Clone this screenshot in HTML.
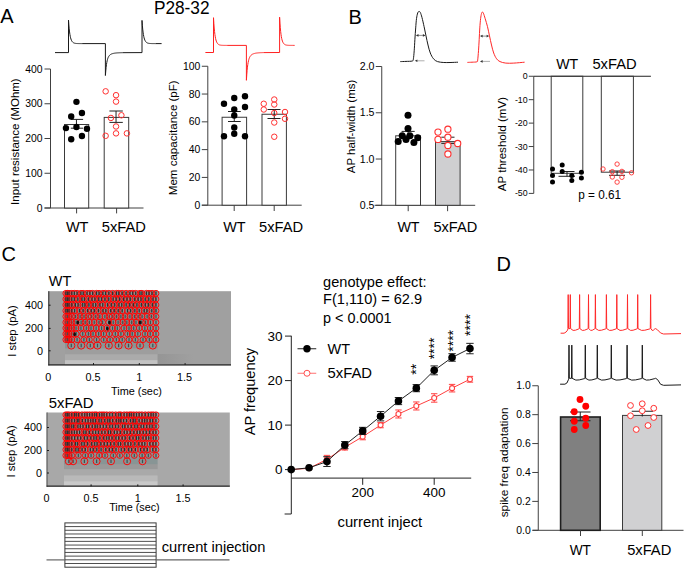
<!DOCTYPE html>
<html><head><meta charset="utf-8"><style>
html,body{margin:0;padding:0;background:#fff;width:685px;height:568px;overflow:hidden;}
svg{display:block;}
text{font-family:"Liberation Sans",sans-serif;}
</style></head><body>
<svg width="685" height="568" viewBox="0 0 685 568">
<rect width="685" height="568" fill="#fff"/>
<text x="0.2" y="22.9" font-size="20">A</text>
<text x="348.4" y="23.6" font-size="20">B</text>
<text x="1.6" y="261.3" font-size="20">C</text>
<text x="496.4" y="270.7" font-size="20">D</text>
<text x="153.9" y="14.2" font-size="18.9" textLength="55.6" lengthAdjust="spacingAndGlyphs">P28-32</text>
<polyline points="55,52.6 68.5,52.6 68.5,20.1 68.85,24.99 69.2,28.86 69.55,31.93 69.9,34.36 70.25,36.28 70.6,37.8 70.95,39.01 71.3,39.97 71.65,40.72 72,41.32 72.35,41.8 72.7,42.17 73.05,42.47 73.4,42.7 73.75,42.89 74.1,43.04 74.45,43.15 74.8,43.25 75.15,43.32 75.5,43.38 75.85,43.43 76.2,43.46 76.55,43.49 76.9,43.51 77.25,43.53 77.6,43.55 77.95,43.56 78.3,43.57 78.65,43.57 79,43.58 79.35,43.58 79.7,43.59 80.05,43.59 80.4,43.59 80.75,43.59 81.1,43.59 81.45,43.6 81.8,43.6 82.15,43.6 105.4,43.6 105.4,75.5 105.75,70.97 106.1,67.43 106.45,64.66 106.8,62.48 107.15,60.77 107.5,59.4 107.85,58.31 108.2,57.44 108.55,56.73 108.9,56.15 109.25,55.68 109.6,55.28 109.95,54.95 110.3,54.68 110.65,54.44 111,54.24 111.35,54.07 111.7,53.92 112.05,53.79 112.4,53.67 112.75,53.57 113.1,53.48 113.45,53.4 113.8,53.33 114.15,53.26 114.5,53.2 114.85,53.15 115.2,53.1 115.55,53.06 115.9,53.02 116.25,52.98 116.6,52.95 116.95,52.92 117.3,52.89 117.65,52.87 118,52.85 118.35,52.83 118.7,52.81 119.05,52.79 119.4,52.77 119.75,52.76 120.1,52.75 120.45,52.73 120.8,52.72 121.15,52.71 121.5,52.7 121.85,52.69 122.2,52.69 122.55,52.68 142,52.6 142,20.4 142.35,25.23 142.7,29.05 143.05,32.08 143.4,34.48 143.75,36.38 144.1,37.88 144.45,39.07 144.8,40.01 145.15,40.76 145.5,41.35 145.85,41.82 146.2,42.19 146.55,42.48 146.9,42.72 147.25,42.9 147.6,43.05 147.95,43.16 148.3,43.25 148.65,43.32 149,43.38 149.35,43.43 149.7,43.46 150.05,43.49 150.4,43.51 150.75,43.53 151.1,43.55 151.45,43.56 151.8,43.57 152.15,43.57 152.5,43.58 152.85,43.58 153.2,43.59 153.55,43.59 153.9,43.59 154.25,43.59 154.6,43.59 154.95,43.6 155.3,43.6 155.65,43.6 161.6,43.6" fill="none" stroke="#1a1a1a" stroke-width="1" stroke-linejoin="round"/>
<polyline points="205.4,52.5 213.5,52.5 213.5,17.7 213.85,23.46 214.2,28.03 214.55,31.64 214.9,34.51 215.25,36.77 215.6,38.57 215.95,39.99 216.3,41.12 216.65,42.01 217,42.71 217.35,43.27 217.7,43.72 218.05,44.07 218.4,44.34 218.75,44.56 219.1,44.74 219.45,44.88 219.8,44.98 220.15,45.07 220.5,45.14 220.85,45.19 221.2,45.24 221.55,45.27 221.9,45.3 222.25,45.32 222.6,45.34 222.95,45.35 223.3,45.36 223.65,45.37 224,45.37 224.35,45.38 224.7,45.38 225.05,45.39 225.4,45.39 225.75,45.39 226.1,45.39 226.45,45.4 226.8,45.4 227.15,45.4 246.4,45.4 246.4,80.3 246.75,74.8 247.1,70.5 247.45,67.14 247.8,64.5 248.15,62.41 248.5,60.76 248.85,59.43 249.2,58.37 249.55,57.51 249.9,56.81 250.25,56.23 250.6,55.76 250.95,55.36 251.3,55.02 251.65,54.74 252,54.49 252.35,54.28 252.7,54.1 253.05,53.94 253.4,53.8 253.75,53.68 254.1,53.57 254.45,53.47 254.8,53.38 255.15,53.3 255.5,53.23 255.85,53.17 256.2,53.11 256.55,53.06 256.9,53.01 257.25,52.97 257.6,52.93 257.95,52.89 258.3,52.86 258.65,52.83 259,52.8 259.35,52.77 259.7,52.75 260.05,52.73 260.4,52.71 260.75,52.69 261.1,52.68 261.45,52.66 261.8,52.65 262.15,52.64 262.5,52.62 262.85,52.61 263.2,52.6 263.55,52.6 279.6,52.5 279.6,17.2 279.95,23.07 280.3,27.72 280.65,31.4 281,34.31 281.35,36.62 281.7,38.45 282.05,39.89 282.4,41.04 282.75,41.95 283.1,42.67 283.45,43.23 283.8,43.69 284.15,44.04 284.5,44.32 284.85,44.55 285.2,44.73 285.55,44.87 285.9,44.98 286.25,45.07 286.6,45.13 286.95,45.19 287.3,45.23 287.65,45.27 288,45.3 288.35,45.32 288.7,45.33 289.05,45.35 289.4,45.36 289.75,45.37 290.1,45.37 290.45,45.38 290.8,45.38 291.15,45.39 291.5,45.39 291.85,45.39 292.2,45.39 292.55,45.39 292.9,45.4 293.25,45.4 294.6,45.4" fill="none" stroke="#ff2020" stroke-width="1" stroke-linejoin="round"/>
<line x1="50.5" y1="69" x2="50.5" y2="208" stroke="#404040" stroke-width="1"/>
<line x1="44.5" y1="69" x2="50.5" y2="69" stroke="#404040" stroke-width="1"/>
<text x="42.5" y="72.58" font-size="10.4" text-anchor="end">400</text>
<line x1="44.5" y1="103.75" x2="50.5" y2="103.75" stroke="#404040" stroke-width="1"/>
<text x="42.5" y="107.33" font-size="10.4" text-anchor="end">300</text>
<line x1="44.5" y1="138.5" x2="50.5" y2="138.5" stroke="#404040" stroke-width="1"/>
<text x="42.5" y="142.08" font-size="10.4" text-anchor="end">200</text>
<line x1="44.5" y1="173.25" x2="50.5" y2="173.25" stroke="#404040" stroke-width="1"/>
<text x="42.5" y="176.83" font-size="10.4" text-anchor="end">100</text>
<line x1="44.5" y1="208" x2="50.5" y2="208" stroke="#404040" stroke-width="1"/>
<text x="42.5" y="211.58" font-size="10.4" text-anchor="end">0</text>
<line x1="44.5" y1="208" x2="143.5" y2="208" stroke="#404040" stroke-width="1"/>
<rect x="64.5" y="124.5" width="24.2" height="83.5" fill="#fff" stroke="#3a3a3a" stroke-width="1"/>
<rect x="104.2" y="117.4" width="24.5" height="90.6" fill="#fff" stroke="#3a3a3a" stroke-width="1"/>
<line x1="76.6" y1="208" x2="76.6" y2="213.4" stroke="#404040" stroke-width="1"/>
<line x1="116.6" y1="208" x2="116.6" y2="213.4" stroke="#404040" stroke-width="1"/>
<text x="65.9" y="232.3" font-size="15" textLength="22.6" lengthAdjust="spacingAndGlyphs">WT</text>
<text x="101.8" y="232.3" font-size="15" textLength="44.2" lengthAdjust="spacingAndGlyphs">5xFAD</text>
<text x="19.2" y="141.6" font-size="11.5" text-anchor="middle" textLength="126.6" lengthAdjust="spacingAndGlyphs" transform="rotate(-90 19.2 141.6)">Input resistance (MOhm)</text>
<line x1="76.45" y1="119.4" x2="76.45" y2="128.2" stroke="#222" stroke-width="1"/>
<line x1="70.8" y1="119.4" x2="83.1" y2="119.4" stroke="#222" stroke-width="1"/>
<line x1="70.8" y1="128.2" x2="83.1" y2="128.2" stroke="#222" stroke-width="1"/>
<circle cx="76.45" cy="101.84" r="3.2" fill="#000" stroke="none" stroke-width="1"/>
<circle cx="81.94" cy="112.93" r="3.2" fill="#000" stroke="none" stroke-width="1"/>
<circle cx="71.2" cy="116.44" r="3.2" fill="#000" stroke="none" stroke-width="1"/>
<circle cx="65.94" cy="128.12" r="3.2" fill="#000" stroke="none" stroke-width="1"/>
<circle cx="76.45" cy="126.95" r="3.2" fill="#000" stroke="none" stroke-width="1"/>
<circle cx="86.96" cy="128.82" r="3.2" fill="#000" stroke="none" stroke-width="1"/>
<circle cx="71.2" cy="139.2" r="3.2" fill="#000" stroke="none" stroke-width="1"/>
<circle cx="81.94" cy="136.06" r="3.2" fill="#000" stroke="none" stroke-width="1"/>
<line x1="116.04" y1="111" x2="116.04" y2="122.4" stroke="#222" stroke-width="1"/>
<line x1="109.4" y1="111" x2="122.8" y2="111" stroke="#222" stroke-width="1"/>
<line x1="109.4" y1="122.4" x2="122.8" y2="122.4" stroke="#222" stroke-width="1"/>
<circle cx="105.65" cy="91.33" r="2.75" fill="none" stroke="#ff3030" stroke-width="1"/>
<circle cx="116.04" cy="95.18" r="2.75" fill="none" stroke="#ff3030" stroke-width="1"/>
<circle cx="116.04" cy="101.6" r="2.75" fill="none" stroke="#ff3030" stroke-width="1"/>
<circle cx="121.42" cy="115.27" r="2.75" fill="none" stroke="#ff3030" stroke-width="1"/>
<circle cx="110.9" cy="117.96" r="2.75" fill="none" stroke="#ff3030" stroke-width="1"/>
<circle cx="116.04" cy="126.48" r="2.75" fill="none" stroke="#ff3030" stroke-width="1"/>
<circle cx="116.04" cy="133.37" r="2.75" fill="none" stroke="#ff3030" stroke-width="1"/>
<circle cx="105.65" cy="135.82" r="2.75" fill="none" stroke="#ff3030" stroke-width="1"/>
<circle cx="126.9" cy="133.37" r="2.75" fill="none" stroke="#ff3030" stroke-width="1"/>
<line x1="207.8" y1="66.25" x2="207.8" y2="205.2" stroke="#404040" stroke-width="1"/>
<line x1="201.8" y1="66.25" x2="207.8" y2="66.25" stroke="#404040" stroke-width="1"/>
<text x="200.3" y="69.83" font-size="10.4" text-anchor="end">100</text>
<line x1="201.8" y1="94.04" x2="207.8" y2="94.04" stroke="#404040" stroke-width="1"/>
<text x="200.3" y="97.62" font-size="10.4" text-anchor="end">80</text>
<line x1="201.8" y1="121.83" x2="207.8" y2="121.83" stroke="#404040" stroke-width="1"/>
<text x="200.3" y="125.41" font-size="10.4" text-anchor="end">60</text>
<line x1="201.8" y1="149.62" x2="207.8" y2="149.62" stroke="#404040" stroke-width="1"/>
<text x="200.3" y="153.2" font-size="10.4" text-anchor="end">40</text>
<line x1="201.8" y1="177.41" x2="207.8" y2="177.41" stroke="#404040" stroke-width="1"/>
<text x="200.3" y="180.99" font-size="10.4" text-anchor="end">20</text>
<line x1="201.8" y1="205.2" x2="207.8" y2="205.2" stroke="#404040" stroke-width="1"/>
<text x="200.3" y="208.78" font-size="10.4" text-anchor="end">0</text>
<line x1="201.8" y1="205.2" x2="301.7" y2="205.2" stroke="#404040" stroke-width="1"/>
<rect x="222.1" y="117.25" width="24.5" height="87.95" fill="#fff" stroke="#3a3a3a" stroke-width="1"/>
<rect x="262" y="114.25" width="24.4" height="90.95" fill="#fff" stroke="#3a3a3a" stroke-width="1"/>
<line x1="234.2" y1="205.2" x2="234.2" y2="211" stroke="#404040" stroke-width="1"/>
<line x1="274.2" y1="205.2" x2="274.2" y2="211" stroke="#404040" stroke-width="1"/>
<text x="223.2" y="232.3" font-size="15" textLength="22.4" lengthAdjust="spacingAndGlyphs">WT</text>
<text x="259.1" y="232.3" font-size="15" textLength="44.1" lengthAdjust="spacingAndGlyphs">5xFAD</text>
<text x="176.9" y="137.75" font-size="11.5" text-anchor="middle" textLength="114.9" lengthAdjust="spacingAndGlyphs" transform="rotate(-90 176.9 137.75)">Mem capacitance (pF)</text>
<line x1="234.25" y1="111.5" x2="234.25" y2="121.5" stroke="#222" stroke-width="1"/>
<line x1="228" y1="111.5" x2="240.75" y2="111.5" stroke="#222" stroke-width="1"/>
<line x1="228" y1="121.5" x2="240.75" y2="121.5" stroke="#222" stroke-width="1"/>
<circle cx="234.25" cy="98" r="3.2" fill="#000" stroke="none" stroke-width="1"/>
<circle cx="245" cy="96.25" r="3.2" fill="#000" stroke="none" stroke-width="1"/>
<circle cx="224" cy="103.75" r="3.2" fill="#000" stroke="none" stroke-width="1"/>
<circle cx="245" cy="107" r="3.2" fill="#000" stroke="none" stroke-width="1"/>
<circle cx="234.25" cy="109.5" r="3.2" fill="#000" stroke="none" stroke-width="1"/>
<circle cx="234.25" cy="115.5" r="3.2" fill="#000" stroke="none" stroke-width="1"/>
<circle cx="234.25" cy="127.5" r="3.2" fill="#000" stroke="none" stroke-width="1"/>
<circle cx="224" cy="136.25" r="3.2" fill="#000" stroke="none" stroke-width="1"/>
<circle cx="234.25" cy="133.75" r="3.2" fill="#000" stroke="none" stroke-width="1"/>
<circle cx="245" cy="136.25" r="3.2" fill="#000" stroke="none" stroke-width="1"/>
<line x1="274.25" y1="109.5" x2="274.25" y2="118.5" stroke="#222" stroke-width="1"/>
<line x1="267.5" y1="109.5" x2="280.5" y2="109.5" stroke="#222" stroke-width="1"/>
<line x1="267.5" y1="118.5" x2="280.5" y2="118.5" stroke="#222" stroke-width="1"/>
<circle cx="263.75" cy="103.75" r="2.75" fill="none" stroke="#ff3030" stroke-width="1"/>
<circle cx="274.25" cy="99.5" r="2.75" fill="none" stroke="#ff3030" stroke-width="1"/>
<circle cx="274.25" cy="104.5" r="2.75" fill="none" stroke="#ff3030" stroke-width="1"/>
<circle cx="263.75" cy="109.5" r="2.75" fill="none" stroke="#ff3030" stroke-width="1"/>
<circle cx="274.25" cy="113" r="2.75" fill="none" stroke="#ff3030" stroke-width="1"/>
<circle cx="285" cy="112" r="2.75" fill="none" stroke="#ff3030" stroke-width="1"/>
<circle cx="285" cy="118.75" r="2.75" fill="none" stroke="#ff3030" stroke-width="1"/>
<circle cx="274.25" cy="122.5" r="2.75" fill="none" stroke="#ff3030" stroke-width="1"/>
<circle cx="274.25" cy="136.75" r="2.75" fill="none" stroke="#ff3030" stroke-width="1"/>
<path d="M400.3 61.6C401.25 61.57 404 61.5 406 61.4C408 61.3 411.07 61.43 412.3 61C413.53 60.57 413.08 60.5 413.4 58.8C413.72 57.1 413.95 54.05 414.2 50.8C414.45 47.55 414.65 43.12 414.9 39.3C415.15 35.48 415.43 31.33 415.7 27.9C415.97 24.47 416.17 21.18 416.5 18.7C416.83 16.22 417.3 14.2 417.7 13C418.1 11.8 418.47 11.6 418.9 11.5C419.33 11.4 419.78 11.38 420.3 12.4C420.82 13.42 421.37 15.22 422 17.6C422.63 19.98 423.43 23.65 424.1 26.7C424.77 29.75 425.35 32.85 426 35.9C426.65 38.95 427.28 42.15 428 45C428.72 47.85 429.38 50.7 430.3 53C431.22 55.3 432.3 57.37 433.5 58.8C434.7 60.23 435.78 60.98 437.5 61.6C439.22 62.22 441.72 62.35 443.8 62.5C445.88 62.65 447.63 62.55 450 62.5C452.37 62.45 456.67 62.25 458 62.2" fill="none" stroke="#1a1a1a" stroke-width="1" stroke-linejoin="round"/>
<path d="M467.4 62.4C468.17 62.37 470.42 62.3 472 62.2C473.58 62.1 475.95 62.18 476.9 61.8C477.85 61.42 477.43 61.73 477.7 59.9C477.97 58.07 478.25 54.23 478.5 50.8C478.75 47.37 478.98 43.12 479.2 39.3C479.42 35.48 479.57 31.33 479.8 27.9C480.03 24.47 480.32 21.08 480.6 18.7C480.88 16.32 481.22 14.7 481.5 13.6C481.78 12.5 481.98 12.17 482.3 12.1C482.62 12.03 482.92 12.1 483.4 13.2C483.88 14.3 484.52 16.45 485.2 18.7C485.88 20.95 486.78 23.83 487.5 26.7C488.22 29.57 488.83 32.85 489.5 35.9C490.17 38.95 490.8 42.15 491.5 45C492.2 47.85 492.85 50.7 493.7 53C494.55 55.3 495.55 57.37 496.6 58.8C497.65 60.23 498.47 60.88 500 61.6C501.53 62.32 503.5 62.85 505.8 63.1C508.1 63.35 510.67 63.25 513.8 63.1C516.93 62.95 522.8 62.35 524.6 62.2" fill="none" stroke="#ff2828" stroke-width="1" stroke-linejoin="round"/>
<line x1="417.4" y1="35.4" x2="424" y2="35.4" stroke="#444" stroke-width="0.6"/>
<path d="M415.9 35.4 L418.5 34.1 L418.5 36.7 Z" fill="#333"/>
<path d="M425.5 35.4 L422.9 34.1 L422.9 36.7 Z" fill="#333"/>
<line x1="481.5" y1="36.1" x2="487.7" y2="36.1" stroke="#444" stroke-width="0.6"/>
<path d="M480 36.1 L482.6 34.8 L482.6 37.4 Z" fill="#333"/>
<path d="M489.2 36.1 L486.6 34.8 L486.6 37.4 Z" fill="#333"/>
<line x1="416.3" y1="60.8" x2="424.5" y2="60.8" stroke="#777" stroke-width="0.6"/>
<path d="M414.8 60.8 L417.4 59.5 L417.4 62.1 Z" fill="#333"/>
<line x1="481.5" y1="61.4" x2="490" y2="61.4" stroke="#777" stroke-width="0.6"/>
<path d="M480 61.4 L482.6 60.1 L482.6 62.7 Z" fill="#333"/>
<line x1="381.75" y1="66.5" x2="381.75" y2="205.3" stroke="#404040" stroke-width="1"/>
<line x1="375.75" y1="66.5" x2="381.75" y2="66.5" stroke="#404040" stroke-width="1"/>
<text x="374.5" y="70.15" font-size="10.6" text-anchor="end">2.0</text>
<line x1="375.75" y1="112.77" x2="381.75" y2="112.77" stroke="#404040" stroke-width="1"/>
<text x="374.5" y="116.41" font-size="10.6" text-anchor="end">1.5</text>
<line x1="375.75" y1="159.03" x2="381.75" y2="159.03" stroke="#404040" stroke-width="1"/>
<text x="374.5" y="162.68" font-size="10.6" text-anchor="end">1.0</text>
<line x1="375.75" y1="205.3" x2="381.75" y2="205.3" stroke="#404040" stroke-width="1"/>
<text x="374.5" y="208.95" font-size="10.6" text-anchor="end">0.5</text>
<line x1="374.6" y1="205.3" x2="475.2" y2="205.3" stroke="#404040" stroke-width="1"/>
<rect x="395.7" y="135.8" width="24.8" height="69.5" fill="#fff" stroke="#3a3a3a" stroke-width="1"/>
<rect x="435.5" y="141.6" width="24.6" height="63.7" fill="#cfcfd1" stroke="#3a3a3a" stroke-width="1"/>
<line x1="408.2" y1="205.3" x2="408.2" y2="211.2" stroke="#404040" stroke-width="1"/>
<line x1="447.6" y1="205.3" x2="447.6" y2="211.2" stroke="#404040" stroke-width="1"/>
<text x="397.4" y="232.3" font-size="15" textLength="22.2" lengthAdjust="spacingAndGlyphs">WT</text>
<text x="433.4" y="232.3" font-size="15" textLength="43.8" lengthAdjust="spacingAndGlyphs">5xFAD</text>
<text x="354.7" y="126.45" font-size="11.5" text-anchor="middle" textLength="93.5" lengthAdjust="spacingAndGlyphs" transform="rotate(-90 354.7 126.45)">AP half-width (ms)</text>
<line x1="408.1" y1="131.4" x2="408.1" y2="140" stroke="#222" stroke-width="1"/>
<line x1="401.6" y1="131.4" x2="414.7" y2="131.4" stroke="#222" stroke-width="1"/>
<circle cx="408" cy="115.3" r="3.5" fill="#000" stroke="none" stroke-width="1"/>
<circle cx="408" cy="128.5" r="3.5" fill="#000" stroke="none" stroke-width="1"/>
<circle cx="402.2" cy="135.8" r="3.5" fill="#000" stroke="none" stroke-width="1"/>
<circle cx="409.9" cy="135.8" r="3.5" fill="#000" stroke="none" stroke-width="1"/>
<circle cx="417.7" cy="137.7" r="3.5" fill="#000" stroke="none" stroke-width="1"/>
<circle cx="398.2" cy="141.6" r="3.5" fill="#000" stroke="none" stroke-width="1"/>
<circle cx="406" cy="139.4" r="3.5" fill="#000" stroke="none" stroke-width="1"/>
<circle cx="413.9" cy="142.6" r="3.5" fill="#000" stroke="none" stroke-width="1"/>
<line x1="447.9" y1="137.2" x2="447.9" y2="143.4" stroke="#222" stroke-width="1"/>
<line x1="441.3" y1="137.2" x2="454.5" y2="137.2" stroke="#222" stroke-width="1"/>
<line x1="441.3" y1="143.4" x2="454.5" y2="143.4" stroke="#222" stroke-width="1"/>
<circle cx="438" cy="132.1" r="3.1" fill="#fff" stroke="#ff3030" stroke-width="1.1"/>
<circle cx="447.9" cy="129.2" r="3.1" fill="#fff" stroke="#ff3030" stroke-width="1.1"/>
<circle cx="438" cy="139.4" r="3.1" fill="#fff" stroke="#ff3030" stroke-width="1.1"/>
<circle cx="447.9" cy="137.2" r="3.1" fill="#fff" stroke="#ff3030" stroke-width="1.1"/>
<circle cx="457.7" cy="143.5" r="3.1" fill="#fff" stroke="#ff3030" stroke-width="1.1"/>
<circle cx="447.9" cy="145.5" r="3.1" fill="#fff" stroke="#ff3030" stroke-width="1.1"/>
<circle cx="447.9" cy="154" r="3.1" fill="#fff" stroke="#ff3030" stroke-width="1.1"/>
<line x1="533.75" y1="76.25" x2="533.75" y2="193.4" stroke="#404040" stroke-width="1"/>
<line x1="528.75" y1="76.25" x2="533.75" y2="76.25" stroke="#404040" stroke-width="1"/>
<text x="527.6" y="79.28" font-size="8.8" text-anchor="end">0</text>
<line x1="528.75" y1="99.68" x2="533.75" y2="99.68" stroke="#404040" stroke-width="1"/>
<text x="527.6" y="102.71" font-size="8.8" text-anchor="end">-10</text>
<line x1="528.75" y1="123.11" x2="533.75" y2="123.11" stroke="#404040" stroke-width="1"/>
<text x="527.6" y="126.14" font-size="8.8" text-anchor="end">-20</text>
<line x1="528.75" y1="146.54" x2="533.75" y2="146.54" stroke="#404040" stroke-width="1"/>
<text x="527.6" y="149.57" font-size="8.8" text-anchor="end">-30</text>
<line x1="528.75" y1="169.97" x2="533.75" y2="169.97" stroke="#404040" stroke-width="1"/>
<text x="527.6" y="173" font-size="8.8" text-anchor="end">-40</text>
<line x1="528.75" y1="193.4" x2="533.75" y2="193.4" stroke="#404040" stroke-width="1"/>
<text x="527.6" y="196.43" font-size="8.8" text-anchor="end">-50</text>
<line x1="533.75" y1="76.25" x2="650.9" y2="76.25" stroke="#222" stroke-width="1"/>
<rect x="551.2" y="76.25" width="31.6" height="97.05" fill="none" stroke="#3a3a3a" stroke-width="1"/>
<rect x="601.3" y="76.25" width="32.1" height="95.95" fill="none" stroke="#3a3a3a" stroke-width="1"/>
<text x="556.25" y="68.6" font-size="14.2" textLength="22" lengthAdjust="spacingAndGlyphs">WT</text>
<text x="592.4" y="68.6" font-size="14.2" textLength="44.2" lengthAdjust="spacingAndGlyphs">5xFAD</text>
<text x="506.4" y="144.1" font-size="11.5" text-anchor="middle" textLength="94.2" lengthAdjust="spacingAndGlyphs" transform="rotate(-90 506.4 144.1)">AP threshold (mV)</text>
<text x="578.2" y="199.2" font-size="12.3" textLength="42.9" lengthAdjust="spacingAndGlyphs">p = 0.61</text>
<line x1="567" y1="171.5" x2="567" y2="176.5" stroke="#222" stroke-width="1"/>
<line x1="560.5" y1="171.5" x2="574.5" y2="171.5" stroke="#222" stroke-width="1"/>
<line x1="558.5" y1="176.3" x2="575" y2="176.3" stroke="#222" stroke-width="1"/>
<circle cx="552.5" cy="169" r="2.5" fill="#000" stroke="none" stroke-width="1"/>
<circle cx="562.2" cy="164.9" r="2.5" fill="#000" stroke="none" stroke-width="1"/>
<circle cx="562.2" cy="171.4" r="2.5" fill="#000" stroke="none" stroke-width="1"/>
<circle cx="552.5" cy="175.4" r="2.5" fill="#000" stroke="none" stroke-width="1"/>
<circle cx="552.5" cy="182.1" r="2.5" fill="#000" stroke="none" stroke-width="1"/>
<circle cx="571.8" cy="175.4" r="2.5" fill="#000" stroke="none" stroke-width="1"/>
<circle cx="571.8" cy="180.5" r="2.5" fill="#000" stroke="none" stroke-width="1"/>
<circle cx="581.4" cy="172.2" r="2.5" fill="#000" stroke="none" stroke-width="1"/>
<circle cx="581.4" cy="178.1" r="2.5" fill="#000" stroke="none" stroke-width="1"/>
<line x1="617.1" y1="171" x2="617.1" y2="175.3" stroke="#222" stroke-width="1"/>
<line x1="609" y1="171" x2="625" y2="171" stroke="#222" stroke-width="1"/>
<line x1="609" y1="175.3" x2="625" y2="175.3" stroke="#222" stroke-width="1"/>
<circle cx="603" cy="169" r="2.2" fill="none" stroke="#ff3030" stroke-width="0.9"/>
<circle cx="617.1" cy="164.1" r="2.2" fill="none" stroke="#ff3030" stroke-width="0.9"/>
<circle cx="612.3" cy="171.7" r="2.2" fill="none" stroke="#ff3030" stroke-width="0.9"/>
<circle cx="621.9" cy="171.4" r="2.2" fill="none" stroke="#ff3030" stroke-width="0.9"/>
<circle cx="631.5" cy="172.8" r="2.2" fill="none" stroke="#ff3030" stroke-width="0.9"/>
<circle cx="612.3" cy="177" r="2.2" fill="none" stroke="#ff3030" stroke-width="0.9"/>
<circle cx="621.9" cy="177.3" r="2.2" fill="none" stroke="#ff3030" stroke-width="0.9"/>
<circle cx="617.1" cy="182.1" r="2.2" fill="none" stroke="#ff3030" stroke-width="0.9"/>
<rect x="48.3" y="291.2" width="182.7" height="74.2" fill="#a0a0a0" stroke="none" stroke-width="1"/>
<rect x="65" y="348.5" width="92.6" height="5.8" fill="#9e9e9e" stroke="none" stroke-width="1"/>
<rect x="65" y="354.3" width="92.6" height="5.8" fill="#ababab" stroke="none" stroke-width="1"/>
<rect x="65" y="360.1" width="92.6" height="5.3" fill="#c3c3c3" stroke="none" stroke-width="1"/>
<rect x="65" y="290.4" width="92.6" height="58" fill="#889595" stroke="none" stroke-width="1"/>
<line x1="65.8" y1="314.7" x2="65.8" y2="318.3" stroke="#3e5050" stroke-width="1.2"/>
<line x1="67.4" y1="314.7" x2="67.4" y2="318.3" stroke="#3e5050" stroke-width="1.2"/>
<line x1="69" y1="314.7" x2="69" y2="318.3" stroke="#3e5050" stroke-width="1.2"/>
<line x1="71.8" y1="314.7" x2="71.8" y2="318.3" stroke="#3e5050" stroke-width="1.2"/>
<line x1="75.61" y1="314.7" x2="75.61" y2="318.3" stroke="#3e5050" stroke-width="1.2"/>
<line x1="80.09" y1="314.7" x2="80.09" y2="318.3" stroke="#3e5050" stroke-width="1.2"/>
<line x1="84.02" y1="314.7" x2="84.02" y2="318.3" stroke="#3e5050" stroke-width="1.2"/>
<line x1="88.17" y1="314.7" x2="88.17" y2="318.3" stroke="#3e5050" stroke-width="1.2"/>
<line x1="91.36" y1="314.7" x2="91.36" y2="318.3" stroke="#3e5050" stroke-width="1.2"/>
<line x1="95.74" y1="314.7" x2="95.74" y2="318.3" stroke="#3e5050" stroke-width="1.2"/>
<line x1="99.83" y1="314.7" x2="99.83" y2="318.3" stroke="#3e5050" stroke-width="1.2"/>
<line x1="104.88" y1="314.7" x2="104.88" y2="318.3" stroke="#3e5050" stroke-width="1.2"/>
<line x1="109.23" y1="314.7" x2="109.23" y2="318.3" stroke="#3e5050" stroke-width="1.2"/>
<line x1="112.19" y1="314.7" x2="112.19" y2="318.3" stroke="#3e5050" stroke-width="1.2"/>
<line x1="116.5" y1="314.7" x2="116.5" y2="318.3" stroke="#3e5050" stroke-width="1.2"/>
<line x1="120.87" y1="314.7" x2="120.87" y2="318.3" stroke="#3e5050" stroke-width="1.2"/>
<line x1="125.17" y1="314.7" x2="125.17" y2="318.3" stroke="#3e5050" stroke-width="1.2"/>
<line x1="129.88" y1="314.7" x2="129.88" y2="318.3" stroke="#3e5050" stroke-width="1.2"/>
<line x1="134.37" y1="314.7" x2="134.37" y2="318.3" stroke="#3e5050" stroke-width="1.2"/>
<line x1="138.18" y1="314.7" x2="138.18" y2="318.3" stroke="#3e5050" stroke-width="1.2"/>
<line x1="142.11" y1="314.7" x2="142.11" y2="318.3" stroke="#3e5050" stroke-width="1.2"/>
<line x1="147.13" y1="314.7" x2="147.13" y2="318.3" stroke="#3e5050" stroke-width="1.2"/>
<line x1="151.42" y1="314.7" x2="151.42" y2="318.3" stroke="#3e5050" stroke-width="1.2"/>
<line x1="156" y1="314.7" x2="156" y2="318.3" stroke="#3e5050" stroke-width="1.2"/>
<line x1="65.8" y1="320.5" x2="65.8" y2="324.1" stroke="#3e5050" stroke-width="1.2"/>
<line x1="67.4" y1="320.5" x2="67.4" y2="324.1" stroke="#3e5050" stroke-width="1.2"/>
<line x1="69" y1="320.5" x2="69" y2="324.1" stroke="#3e5050" stroke-width="1.2"/>
<line x1="71.8" y1="320.5" x2="71.8" y2="324.1" stroke="#3e5050" stroke-width="1.2"/>
<line x1="76.07" y1="320.5" x2="76.07" y2="324.1" stroke="#3e5050" stroke-width="1.2"/>
<line x1="81.09" y1="320.5" x2="81.09" y2="324.1" stroke="#3e5050" stroke-width="1.2"/>
<line x1="85.17" y1="320.5" x2="85.17" y2="324.1" stroke="#3e5050" stroke-width="1.2"/>
<line x1="89.44" y1="320.5" x2="89.44" y2="324.1" stroke="#3e5050" stroke-width="1.2"/>
<line x1="94.21" y1="320.5" x2="94.21" y2="324.1" stroke="#3e5050" stroke-width="1.2"/>
<line x1="98.94" y1="320.5" x2="98.94" y2="324.1" stroke="#3e5050" stroke-width="1.2"/>
<line x1="102.62" y1="320.5" x2="102.62" y2="324.1" stroke="#3e5050" stroke-width="1.2"/>
<line x1="108.67" y1="320.5" x2="108.67" y2="324.1" stroke="#3e5050" stroke-width="1.2"/>
<line x1="113.2" y1="320.5" x2="113.2" y2="324.1" stroke="#3e5050" stroke-width="1.2"/>
<line x1="118.09" y1="320.5" x2="118.09" y2="324.1" stroke="#3e5050" stroke-width="1.2"/>
<line x1="122.73" y1="320.5" x2="122.73" y2="324.1" stroke="#3e5050" stroke-width="1.2"/>
<line x1="126.86" y1="320.5" x2="126.86" y2="324.1" stroke="#3e5050" stroke-width="1.2"/>
<line x1="131.66" y1="320.5" x2="131.66" y2="324.1" stroke="#3e5050" stroke-width="1.2"/>
<line x1="136" y1="320.5" x2="136" y2="324.1" stroke="#3e5050" stroke-width="1.2"/>
<line x1="141.67" y1="320.5" x2="141.67" y2="324.1" stroke="#3e5050" stroke-width="1.2"/>
<line x1="145.59" y1="320.5" x2="145.59" y2="324.1" stroke="#3e5050" stroke-width="1.2"/>
<line x1="150.45" y1="320.5" x2="150.45" y2="324.1" stroke="#3e5050" stroke-width="1.2"/>
<line x1="156" y1="320.5" x2="156" y2="324.1" stroke="#3e5050" stroke-width="1.2"/>
<line x1="65.8" y1="326.3" x2="65.8" y2="329.9" stroke="#3e5050" stroke-width="1.2"/>
<line x1="67.4" y1="326.3" x2="67.4" y2="329.9" stroke="#3e5050" stroke-width="1.2"/>
<line x1="69" y1="326.3" x2="69" y2="329.9" stroke="#3e5050" stroke-width="1.2"/>
<line x1="71.8" y1="326.3" x2="71.8" y2="329.9" stroke="#3e5050" stroke-width="1.2"/>
<line x1="76.04" y1="326.3" x2="76.04" y2="329.9" stroke="#3e5050" stroke-width="1.2"/>
<line x1="80.94" y1="326.3" x2="80.94" y2="329.9" stroke="#3e5050" stroke-width="1.2"/>
<line x1="86.31" y1="326.3" x2="86.31" y2="329.9" stroke="#3e5050" stroke-width="1.2"/>
<line x1="91" y1="326.3" x2="91" y2="329.9" stroke="#3e5050" stroke-width="1.2"/>
<line x1="96.12" y1="326.3" x2="96.12" y2="329.9" stroke="#3e5050" stroke-width="1.2"/>
<line x1="101.6" y1="326.3" x2="101.6" y2="329.9" stroke="#3e5050" stroke-width="1.2"/>
<line x1="106.8" y1="326.3" x2="106.8" y2="329.9" stroke="#3e5050" stroke-width="1.2"/>
<line x1="112.53" y1="326.3" x2="112.53" y2="329.9" stroke="#3e5050" stroke-width="1.2"/>
<line x1="117.33" y1="326.3" x2="117.33" y2="329.9" stroke="#3e5050" stroke-width="1.2"/>
<line x1="124.04" y1="326.3" x2="124.04" y2="329.9" stroke="#3e5050" stroke-width="1.2"/>
<line x1="129.01" y1="326.3" x2="129.01" y2="329.9" stroke="#3e5050" stroke-width="1.2"/>
<line x1="133.67" y1="326.3" x2="133.67" y2="329.9" stroke="#3e5050" stroke-width="1.2"/>
<line x1="139.25" y1="326.3" x2="139.25" y2="329.9" stroke="#3e5050" stroke-width="1.2"/>
<line x1="144.84" y1="326.3" x2="144.84" y2="329.9" stroke="#3e5050" stroke-width="1.2"/>
<line x1="150.32" y1="326.3" x2="150.32" y2="329.9" stroke="#3e5050" stroke-width="1.2"/>
<line x1="156" y1="326.3" x2="156" y2="329.9" stroke="#3e5050" stroke-width="1.2"/>
<line x1="65.8" y1="332.1" x2="65.8" y2="335.7" stroke="#3e5050" stroke-width="1.2"/>
<line x1="67.4" y1="332.1" x2="67.4" y2="335.7" stroke="#3e5050" stroke-width="1.2"/>
<line x1="69" y1="332.1" x2="69" y2="335.7" stroke="#3e5050" stroke-width="1.2"/>
<line x1="71.8" y1="332.1" x2="71.8" y2="335.7" stroke="#3e5050" stroke-width="1.2"/>
<line x1="76.23" y1="332.1" x2="76.23" y2="335.7" stroke="#3e5050" stroke-width="1.2"/>
<line x1="82.72" y1="332.1" x2="82.72" y2="335.7" stroke="#3e5050" stroke-width="1.2"/>
<line x1="88.38" y1="332.1" x2="88.38" y2="335.7" stroke="#3e5050" stroke-width="1.2"/>
<line x1="93.04" y1="332.1" x2="93.04" y2="335.7" stroke="#3e5050" stroke-width="1.2"/>
<line x1="98.63" y1="332.1" x2="98.63" y2="335.7" stroke="#3e5050" stroke-width="1.2"/>
<line x1="103.61" y1="332.1" x2="103.61" y2="335.7" stroke="#3e5050" stroke-width="1.2"/>
<line x1="109.28" y1="332.1" x2="109.28" y2="335.7" stroke="#3e5050" stroke-width="1.2"/>
<line x1="115.34" y1="332.1" x2="115.34" y2="335.7" stroke="#3e5050" stroke-width="1.2"/>
<line x1="120.92" y1="332.1" x2="120.92" y2="335.7" stroke="#3e5050" stroke-width="1.2"/>
<line x1="127.56" y1="332.1" x2="127.56" y2="335.7" stroke="#3e5050" stroke-width="1.2"/>
<line x1="132.24" y1="332.1" x2="132.24" y2="335.7" stroke="#3e5050" stroke-width="1.2"/>
<line x1="137.8" y1="332.1" x2="137.8" y2="335.7" stroke="#3e5050" stroke-width="1.2"/>
<line x1="145.08" y1="332.1" x2="145.08" y2="335.7" stroke="#3e5050" stroke-width="1.2"/>
<line x1="150.22" y1="332.1" x2="150.22" y2="335.7" stroke="#3e5050" stroke-width="1.2"/>
<line x1="156" y1="332.1" x2="156" y2="335.7" stroke="#3e5050" stroke-width="1.2"/>
<line x1="65.8" y1="337.9" x2="65.8" y2="341.5" stroke="#3e5050" stroke-width="1.2"/>
<line x1="67.4" y1="337.9" x2="67.4" y2="341.5" stroke="#3e5050" stroke-width="1.2"/>
<line x1="69" y1="337.9" x2="69" y2="341.5" stroke="#3e5050" stroke-width="1.2"/>
<line x1="71.8" y1="337.9" x2="71.8" y2="341.5" stroke="#3e5050" stroke-width="1.2"/>
<line x1="77.08" y1="337.9" x2="77.08" y2="341.5" stroke="#3e5050" stroke-width="1.2"/>
<line x1="83.89" y1="337.9" x2="83.89" y2="341.5" stroke="#3e5050" stroke-width="1.2"/>
<line x1="89.37" y1="337.9" x2="89.37" y2="341.5" stroke="#3e5050" stroke-width="1.2"/>
<line x1="96.56" y1="337.9" x2="96.56" y2="341.5" stroke="#3e5050" stroke-width="1.2"/>
<line x1="103.74" y1="337.9" x2="103.74" y2="341.5" stroke="#3e5050" stroke-width="1.2"/>
<line x1="110.06" y1="337.9" x2="110.06" y2="341.5" stroke="#3e5050" stroke-width="1.2"/>
<line x1="116.34" y1="337.9" x2="116.34" y2="341.5" stroke="#3e5050" stroke-width="1.2"/>
<line x1="122.24" y1="337.9" x2="122.24" y2="341.5" stroke="#3e5050" stroke-width="1.2"/>
<line x1="129.03" y1="337.9" x2="129.03" y2="341.5" stroke="#3e5050" stroke-width="1.2"/>
<line x1="135.36" y1="337.9" x2="135.36" y2="341.5" stroke="#3e5050" stroke-width="1.2"/>
<line x1="143.01" y1="337.9" x2="143.01" y2="341.5" stroke="#3e5050" stroke-width="1.2"/>
<line x1="149.33" y1="337.9" x2="149.33" y2="341.5" stroke="#3e5050" stroke-width="1.2"/>
<line x1="156" y1="337.9" x2="156" y2="341.5" stroke="#3e5050" stroke-width="1.2"/>
<line x1="71.3" y1="343.7" x2="71.3" y2="347.3" stroke="#3e5050" stroke-width="1.2"/>
<line x1="81.2" y1="343.7" x2="81.2" y2="347.3" stroke="#3e5050" stroke-width="1.2"/>
<line x1="90.3" y1="343.7" x2="90.3" y2="347.3" stroke="#3e5050" stroke-width="1.2"/>
<line x1="97.5" y1="343.7" x2="97.5" y2="347.3" stroke="#3e5050" stroke-width="1.2"/>
<line x1="108.8" y1="343.7" x2="108.8" y2="347.3" stroke="#3e5050" stroke-width="1.2"/>
<line x1="118.6" y1="343.7" x2="118.6" y2="347.3" stroke="#3e5050" stroke-width="1.2"/>
<line x1="128.5" y1="343.7" x2="128.5" y2="347.3" stroke="#3e5050" stroke-width="1.2"/>
<line x1="140" y1="343.7" x2="140" y2="347.3" stroke="#3e5050" stroke-width="1.2"/>
<line x1="152.8" y1="343.7" x2="152.8" y2="347.3" stroke="#3e5050" stroke-width="1.2"/>
<circle cx="65.8" cy="293.3" r="2.9" fill="none" stroke="#ff0000" stroke-width="0.95"/>
<circle cx="67.4" cy="293.3" r="2.9" fill="none" stroke="#ff0000" stroke-width="0.95"/>
<circle cx="69" cy="293.3" r="2.9" fill="none" stroke="#ff0000" stroke-width="0.95"/>
<circle cx="71.8" cy="293.3" r="2.9" fill="none" stroke="#ff0000" stroke-width="0.95"/>
<circle cx="74.36" cy="293.3" r="2.9" fill="none" stroke="#ff0000" stroke-width="0.95"/>
<circle cx="77.09" cy="293.3" r="2.9" fill="none" stroke="#ff0000" stroke-width="0.95"/>
<circle cx="80.95" cy="293.3" r="2.9" fill="none" stroke="#ff0000" stroke-width="0.95"/>
<circle cx="83.14" cy="293.3" r="2.9" fill="none" stroke="#ff0000" stroke-width="0.95"/>
<circle cx="87.02" cy="293.3" r="2.9" fill="none" stroke="#ff0000" stroke-width="0.95"/>
<circle cx="89.91" cy="293.3" r="2.9" fill="none" stroke="#ff0000" stroke-width="0.95"/>
<circle cx="92.6" cy="293.3" r="2.9" fill="none" stroke="#ff0000" stroke-width="0.95"/>
<circle cx="96.53" cy="293.3" r="2.9" fill="none" stroke="#ff0000" stroke-width="0.95"/>
<circle cx="99" cy="293.3" r="2.9" fill="none" stroke="#ff0000" stroke-width="0.95"/>
<circle cx="102.86" cy="293.3" r="2.9" fill="none" stroke="#ff0000" stroke-width="0.95"/>
<circle cx="105.53" cy="293.3" r="2.9" fill="none" stroke="#ff0000" stroke-width="0.95"/>
<circle cx="108.82" cy="293.3" r="2.9" fill="none" stroke="#ff0000" stroke-width="0.95"/>
<circle cx="112.63" cy="293.3" r="2.9" fill="none" stroke="#ff0000" stroke-width="0.95"/>
<circle cx="116.55" cy="293.3" r="2.9" fill="none" stroke="#ff0000" stroke-width="0.95"/>
<circle cx="118.72" cy="293.3" r="2.9" fill="none" stroke="#ff0000" stroke-width="0.95"/>
<circle cx="122.18" cy="293.3" r="2.9" fill="none" stroke="#ff0000" stroke-width="0.95"/>
<circle cx="126.13" cy="293.3" r="2.9" fill="none" stroke="#ff0000" stroke-width="0.95"/>
<circle cx="129.96" cy="293.3" r="2.9" fill="none" stroke="#ff0000" stroke-width="0.95"/>
<circle cx="132.69" cy="293.3" r="2.9" fill="none" stroke="#ff0000" stroke-width="0.95"/>
<circle cx="135.73" cy="293.3" r="2.9" fill="none" stroke="#ff0000" stroke-width="0.95"/>
<circle cx="139.99" cy="293.3" r="2.9" fill="none" stroke="#ff0000" stroke-width="0.95"/>
<circle cx="141.85" cy="293.3" r="2.9" fill="none" stroke="#ff0000" stroke-width="0.95"/>
<circle cx="146.49" cy="293.3" r="2.9" fill="none" stroke="#ff0000" stroke-width="0.95"/>
<circle cx="148.94" cy="293.3" r="2.9" fill="none" stroke="#ff0000" stroke-width="0.95"/>
<circle cx="152.07" cy="293.3" r="2.9" fill="none" stroke="#ff0000" stroke-width="0.95"/>
<circle cx="156" cy="293.3" r="2.9" fill="none" stroke="#ff0000" stroke-width="0.95"/>
<circle cx="65.8" cy="299.1" r="2.9" fill="none" stroke="#ff0000" stroke-width="0.95"/>
<circle cx="67.4" cy="299.1" r="2.9" fill="none" stroke="#ff0000" stroke-width="0.95"/>
<circle cx="69" cy="299.1" r="2.9" fill="none" stroke="#ff0000" stroke-width="0.95"/>
<circle cx="71.8" cy="299.1" r="2.9" fill="none" stroke="#ff0000" stroke-width="0.95"/>
<circle cx="74.28" cy="299.1" r="2.9" fill="none" stroke="#ff0000" stroke-width="0.95"/>
<circle cx="77.85" cy="299.1" r="2.9" fill="none" stroke="#ff0000" stroke-width="0.95"/>
<circle cx="81.99" cy="299.1" r="2.9" fill="none" stroke="#ff0000" stroke-width="0.95"/>
<circle cx="84.35" cy="299.1" r="2.9" fill="none" stroke="#ff0000" stroke-width="0.95"/>
<circle cx="88.41" cy="299.1" r="2.9" fill="none" stroke="#ff0000" stroke-width="0.95"/>
<circle cx="91.94" cy="299.1" r="2.9" fill="none" stroke="#ff0000" stroke-width="0.95"/>
<circle cx="94.97" cy="299.1" r="2.9" fill="none" stroke="#ff0000" stroke-width="0.95"/>
<circle cx="98.74" cy="299.1" r="2.9" fill="none" stroke="#ff0000" stroke-width="0.95"/>
<circle cx="101.46" cy="299.1" r="2.9" fill="none" stroke="#ff0000" stroke-width="0.95"/>
<circle cx="104.97" cy="299.1" r="2.9" fill="none" stroke="#ff0000" stroke-width="0.95"/>
<circle cx="108.74" cy="299.1" r="2.9" fill="none" stroke="#ff0000" stroke-width="0.95"/>
<circle cx="113.04" cy="299.1" r="2.9" fill="none" stroke="#ff0000" stroke-width="0.95"/>
<circle cx="116.19" cy="299.1" r="2.9" fill="none" stroke="#ff0000" stroke-width="0.95"/>
<circle cx="119.57" cy="299.1" r="2.9" fill="none" stroke="#ff0000" stroke-width="0.95"/>
<circle cx="123.58" cy="299.1" r="2.9" fill="none" stroke="#ff0000" stroke-width="0.95"/>
<circle cx="126.96" cy="299.1" r="2.9" fill="none" stroke="#ff0000" stroke-width="0.95"/>
<circle cx="130.3" cy="299.1" r="2.9" fill="none" stroke="#ff0000" stroke-width="0.95"/>
<circle cx="134.7" cy="299.1" r="2.9" fill="none" stroke="#ff0000" stroke-width="0.95"/>
<circle cx="138.16" cy="299.1" r="2.9" fill="none" stroke="#ff0000" stroke-width="0.95"/>
<circle cx="141.05" cy="299.1" r="2.9" fill="none" stroke="#ff0000" stroke-width="0.95"/>
<circle cx="145.2" cy="299.1" r="2.9" fill="none" stroke="#ff0000" stroke-width="0.95"/>
<circle cx="148.76" cy="299.1" r="2.9" fill="none" stroke="#ff0000" stroke-width="0.95"/>
<circle cx="152.95" cy="299.1" r="2.9" fill="none" stroke="#ff0000" stroke-width="0.95"/>
<circle cx="156" cy="299.1" r="2.9" fill="none" stroke="#ff0000" stroke-width="0.95"/>
<circle cx="65.8" cy="304.9" r="2.9" fill="none" stroke="#ff0000" stroke-width="0.95"/>
<circle cx="67.4" cy="304.9" r="2.9" fill="none" stroke="#ff0000" stroke-width="0.95"/>
<circle cx="69" cy="304.9" r="2.9" fill="none" stroke="#ff0000" stroke-width="0.95"/>
<circle cx="71.8" cy="304.9" r="2.9" fill="none" stroke="#ff0000" stroke-width="0.95"/>
<circle cx="75.4" cy="304.9" r="2.9" fill="none" stroke="#ff0000" stroke-width="0.95"/>
<circle cx="78.1" cy="304.9" r="2.9" fill="none" stroke="#ff0000" stroke-width="0.95"/>
<circle cx="82.69" cy="304.9" r="2.9" fill="none" stroke="#ff0000" stroke-width="0.95"/>
<circle cx="84.84" cy="304.9" r="2.9" fill="none" stroke="#ff0000" stroke-width="0.95"/>
<circle cx="88.89" cy="304.9" r="2.9" fill="none" stroke="#ff0000" stroke-width="0.95"/>
<circle cx="93.03" cy="304.9" r="2.9" fill="none" stroke="#ff0000" stroke-width="0.95"/>
<circle cx="95.68" cy="304.9" r="2.9" fill="none" stroke="#ff0000" stroke-width="0.95"/>
<circle cx="99.86" cy="304.9" r="2.9" fill="none" stroke="#ff0000" stroke-width="0.95"/>
<circle cx="102.8" cy="304.9" r="2.9" fill="none" stroke="#ff0000" stroke-width="0.95"/>
<circle cx="107.48" cy="304.9" r="2.9" fill="none" stroke="#ff0000" stroke-width="0.95"/>
<circle cx="111.32" cy="304.9" r="2.9" fill="none" stroke="#ff0000" stroke-width="0.95"/>
<circle cx="114.72" cy="304.9" r="2.9" fill="none" stroke="#ff0000" stroke-width="0.95"/>
<circle cx="118.92" cy="304.9" r="2.9" fill="none" stroke="#ff0000" stroke-width="0.95"/>
<circle cx="121.75" cy="304.9" r="2.9" fill="none" stroke="#ff0000" stroke-width="0.95"/>
<circle cx="126.09" cy="304.9" r="2.9" fill="none" stroke="#ff0000" stroke-width="0.95"/>
<circle cx="129.68" cy="304.9" r="2.9" fill="none" stroke="#ff0000" stroke-width="0.95"/>
<circle cx="133.41" cy="304.9" r="2.9" fill="none" stroke="#ff0000" stroke-width="0.95"/>
<circle cx="136.98" cy="304.9" r="2.9" fill="none" stroke="#ff0000" stroke-width="0.95"/>
<circle cx="141.37" cy="304.9" r="2.9" fill="none" stroke="#ff0000" stroke-width="0.95"/>
<circle cx="145.32" cy="304.9" r="2.9" fill="none" stroke="#ff0000" stroke-width="0.95"/>
<circle cx="148.36" cy="304.9" r="2.9" fill="none" stroke="#ff0000" stroke-width="0.95"/>
<circle cx="152.46" cy="304.9" r="2.9" fill="none" stroke="#ff0000" stroke-width="0.95"/>
<circle cx="156" cy="304.9" r="2.9" fill="none" stroke="#ff0000" stroke-width="0.95"/>
<circle cx="65.8" cy="310.7" r="2.9" fill="none" stroke="#ff0000" stroke-width="0.95"/>
<circle cx="67.4" cy="310.7" r="2.9" fill="none" stroke="#ff0000" stroke-width="0.95"/>
<circle cx="69" cy="310.7" r="2.9" fill="none" stroke="#ff0000" stroke-width="0.95"/>
<circle cx="71.8" cy="310.7" r="2.9" fill="none" stroke="#ff0000" stroke-width="0.95"/>
<circle cx="74.65" cy="310.7" r="2.9" fill="none" stroke="#ff0000" stroke-width="0.95"/>
<circle cx="79.42" cy="310.7" r="2.9" fill="none" stroke="#ff0000" stroke-width="0.95"/>
<circle cx="83.16" cy="310.7" r="2.9" fill="none" stroke="#ff0000" stroke-width="0.95"/>
<circle cx="87.6" cy="310.7" r="2.9" fill="none" stroke="#ff0000" stroke-width="0.95"/>
<circle cx="91.24" cy="310.7" r="2.9" fill="none" stroke="#ff0000" stroke-width="0.95"/>
<circle cx="94.34" cy="310.7" r="2.9" fill="none" stroke="#ff0000" stroke-width="0.95"/>
<circle cx="98.48" cy="310.7" r="2.9" fill="none" stroke="#ff0000" stroke-width="0.95"/>
<circle cx="102.93" cy="310.7" r="2.9" fill="none" stroke="#ff0000" stroke-width="0.95"/>
<circle cx="105.92" cy="310.7" r="2.9" fill="none" stroke="#ff0000" stroke-width="0.95"/>
<circle cx="110.66" cy="310.7" r="2.9" fill="none" stroke="#ff0000" stroke-width="0.95"/>
<circle cx="114.25" cy="310.7" r="2.9" fill="none" stroke="#ff0000" stroke-width="0.95"/>
<circle cx="118.24" cy="310.7" r="2.9" fill="none" stroke="#ff0000" stroke-width="0.95"/>
<circle cx="122.23" cy="310.7" r="2.9" fill="none" stroke="#ff0000" stroke-width="0.95"/>
<circle cx="127.46" cy="310.7" r="2.9" fill="none" stroke="#ff0000" stroke-width="0.95"/>
<circle cx="130.55" cy="310.7" r="2.9" fill="none" stroke="#ff0000" stroke-width="0.95"/>
<circle cx="134.85" cy="310.7" r="2.9" fill="none" stroke="#ff0000" stroke-width="0.95"/>
<circle cx="139.21" cy="310.7" r="2.9" fill="none" stroke="#ff0000" stroke-width="0.95"/>
<circle cx="144.12" cy="310.7" r="2.9" fill="none" stroke="#ff0000" stroke-width="0.95"/>
<circle cx="147.01" cy="310.7" r="2.9" fill="none" stroke="#ff0000" stroke-width="0.95"/>
<circle cx="151.75" cy="310.7" r="2.9" fill="none" stroke="#ff0000" stroke-width="0.95"/>
<circle cx="156" cy="310.7" r="2.9" fill="none" stroke="#ff0000" stroke-width="0.95"/>
<circle cx="65.8" cy="316.5" r="2.9" fill="none" stroke="#ff0000" stroke-width="0.95"/>
<circle cx="67.4" cy="316.5" r="2.9" fill="none" stroke="#ff0000" stroke-width="0.95"/>
<circle cx="69" cy="316.5" r="2.9" fill="none" stroke="#ff0000" stroke-width="0.95"/>
<circle cx="71.8" cy="316.5" r="2.9" fill="none" stroke="#ff0000" stroke-width="0.95"/>
<circle cx="75.61" cy="316.5" r="2.9" fill="none" stroke="#ff0000" stroke-width="0.95"/>
<circle cx="80.09" cy="316.5" r="2.9" fill="none" stroke="#ff0000" stroke-width="0.95"/>
<circle cx="84.02" cy="316.5" r="2.9" fill="none" stroke="#ff0000" stroke-width="0.95"/>
<circle cx="88.17" cy="316.5" r="2.9" fill="none" stroke="#ff0000" stroke-width="0.95"/>
<circle cx="91.36" cy="316.5" r="2.9" fill="none" stroke="#ff0000" stroke-width="0.95"/>
<circle cx="95.74" cy="316.5" r="2.9" fill="none" stroke="#ff0000" stroke-width="0.95"/>
<circle cx="99.83" cy="316.5" r="2.9" fill="none" stroke="#ff0000" stroke-width="0.95"/>
<circle cx="104.88" cy="316.5" r="2.9" fill="none" stroke="#ff0000" stroke-width="0.95"/>
<circle cx="109.23" cy="316.5" r="2.9" fill="none" stroke="#ff0000" stroke-width="0.95"/>
<circle cx="112.19" cy="316.5" r="2.9" fill="none" stroke="#ff0000" stroke-width="0.95"/>
<circle cx="116.5" cy="316.5" r="2.9" fill="none" stroke="#ff0000" stroke-width="0.95"/>
<circle cx="120.87" cy="316.5" r="2.9" fill="none" stroke="#ff0000" stroke-width="0.95"/>
<circle cx="125.17" cy="316.5" r="2.9" fill="none" stroke="#ff0000" stroke-width="0.95"/>
<circle cx="129.88" cy="316.5" r="2.9" fill="none" stroke="#ff0000" stroke-width="0.95"/>
<circle cx="134.37" cy="316.5" r="2.9" fill="none" stroke="#ff0000" stroke-width="0.95"/>
<circle cx="138.18" cy="316.5" r="2.9" fill="none" stroke="#ff0000" stroke-width="0.95"/>
<circle cx="142.11" cy="316.5" r="2.9" fill="none" stroke="#ff0000" stroke-width="0.95"/>
<circle cx="147.13" cy="316.5" r="2.9" fill="none" stroke="#ff0000" stroke-width="0.95"/>
<circle cx="151.42" cy="316.5" r="2.9" fill="none" stroke="#ff0000" stroke-width="0.95"/>
<circle cx="156" cy="316.5" r="2.9" fill="none" stroke="#ff0000" stroke-width="0.95"/>
<circle cx="65.8" cy="322.3" r="2.9" fill="none" stroke="#ff0000" stroke-width="0.95"/>
<circle cx="67.4" cy="322.3" r="2.9" fill="none" stroke="#ff0000" stroke-width="0.95"/>
<circle cx="69" cy="322.3" r="2.9" fill="none" stroke="#ff0000" stroke-width="0.95"/>
<circle cx="71.8" cy="322.3" r="2.9" fill="none" stroke="#ff0000" stroke-width="0.95"/>
<circle cx="76.07" cy="322.3" r="2.9" fill="none" stroke="#ff0000" stroke-width="0.95"/>
<circle cx="81.09" cy="322.3" r="2.9" fill="none" stroke="#ff0000" stroke-width="0.95"/>
<circle cx="85.17" cy="322.3" r="2.9" fill="none" stroke="#ff0000" stroke-width="0.95"/>
<circle cx="89.44" cy="322.3" r="2.9" fill="none" stroke="#ff0000" stroke-width="0.95"/>
<circle cx="94.21" cy="322.3" r="2.9" fill="none" stroke="#ff0000" stroke-width="0.95"/>
<circle cx="98.94" cy="322.3" r="2.9" fill="none" stroke="#ff0000" stroke-width="0.95"/>
<circle cx="102.62" cy="322.3" r="2.9" fill="none" stroke="#ff0000" stroke-width="0.95"/>
<circle cx="108.67" cy="322.3" r="2.9" fill="none" stroke="#ff0000" stroke-width="0.95"/>
<circle cx="113.2" cy="322.3" r="2.9" fill="none" stroke="#ff0000" stroke-width="0.95"/>
<circle cx="118.09" cy="322.3" r="2.9" fill="none" stroke="#ff0000" stroke-width="0.95"/>
<circle cx="122.73" cy="322.3" r="2.9" fill="none" stroke="#ff0000" stroke-width="0.95"/>
<circle cx="126.86" cy="322.3" r="2.9" fill="none" stroke="#ff0000" stroke-width="0.95"/>
<circle cx="131.66" cy="322.3" r="2.9" fill="none" stroke="#ff0000" stroke-width="0.95"/>
<circle cx="136" cy="322.3" r="2.9" fill="none" stroke="#ff0000" stroke-width="0.95"/>
<circle cx="141.67" cy="322.3" r="2.9" fill="none" stroke="#ff0000" stroke-width="0.95"/>
<circle cx="145.59" cy="322.3" r="2.9" fill="none" stroke="#ff0000" stroke-width="0.95"/>
<circle cx="150.45" cy="322.3" r="2.9" fill="none" stroke="#ff0000" stroke-width="0.95"/>
<circle cx="156" cy="322.3" r="2.9" fill="none" stroke="#ff0000" stroke-width="0.95"/>
<circle cx="65.8" cy="328.1" r="2.9" fill="none" stroke="#ff0000" stroke-width="0.95"/>
<circle cx="67.4" cy="328.1" r="2.9" fill="none" stroke="#ff0000" stroke-width="0.95"/>
<circle cx="69" cy="328.1" r="2.9" fill="none" stroke="#ff0000" stroke-width="0.95"/>
<circle cx="71.8" cy="328.1" r="2.9" fill="none" stroke="#ff0000" stroke-width="0.95"/>
<circle cx="76.04" cy="328.1" r="2.9" fill="none" stroke="#ff0000" stroke-width="0.95"/>
<circle cx="80.94" cy="328.1" r="2.9" fill="none" stroke="#ff0000" stroke-width="0.95"/>
<circle cx="86.31" cy="328.1" r="2.9" fill="none" stroke="#ff0000" stroke-width="0.95"/>
<circle cx="91" cy="328.1" r="2.9" fill="none" stroke="#ff0000" stroke-width="0.95"/>
<circle cx="96.12" cy="328.1" r="2.9" fill="none" stroke="#ff0000" stroke-width="0.95"/>
<circle cx="101.6" cy="328.1" r="2.9" fill="none" stroke="#ff0000" stroke-width="0.95"/>
<circle cx="106.8" cy="328.1" r="2.9" fill="none" stroke="#ff0000" stroke-width="0.95"/>
<circle cx="112.53" cy="328.1" r="2.9" fill="none" stroke="#ff0000" stroke-width="0.95"/>
<circle cx="117.33" cy="328.1" r="2.9" fill="none" stroke="#ff0000" stroke-width="0.95"/>
<circle cx="124.04" cy="328.1" r="2.9" fill="none" stroke="#ff0000" stroke-width="0.95"/>
<circle cx="129.01" cy="328.1" r="2.9" fill="none" stroke="#ff0000" stroke-width="0.95"/>
<circle cx="133.67" cy="328.1" r="2.9" fill="none" stroke="#ff0000" stroke-width="0.95"/>
<circle cx="139.25" cy="328.1" r="2.9" fill="none" stroke="#ff0000" stroke-width="0.95"/>
<circle cx="144.84" cy="328.1" r="2.9" fill="none" stroke="#ff0000" stroke-width="0.95"/>
<circle cx="150.32" cy="328.1" r="2.9" fill="none" stroke="#ff0000" stroke-width="0.95"/>
<circle cx="156" cy="328.1" r="2.9" fill="none" stroke="#ff0000" stroke-width="0.95"/>
<circle cx="65.8" cy="333.9" r="2.9" fill="none" stroke="#ff0000" stroke-width="0.95"/>
<circle cx="67.4" cy="333.9" r="2.9" fill="none" stroke="#ff0000" stroke-width="0.95"/>
<circle cx="69" cy="333.9" r="2.9" fill="none" stroke="#ff0000" stroke-width="0.95"/>
<circle cx="71.8" cy="333.9" r="2.9" fill="none" stroke="#ff0000" stroke-width="0.95"/>
<circle cx="76.23" cy="333.9" r="2.9" fill="none" stroke="#ff0000" stroke-width="0.95"/>
<circle cx="82.72" cy="333.9" r="2.9" fill="none" stroke="#ff0000" stroke-width="0.95"/>
<circle cx="88.38" cy="333.9" r="2.9" fill="none" stroke="#ff0000" stroke-width="0.95"/>
<circle cx="93.04" cy="333.9" r="2.9" fill="none" stroke="#ff0000" stroke-width="0.95"/>
<circle cx="98.63" cy="333.9" r="2.9" fill="none" stroke="#ff0000" stroke-width="0.95"/>
<circle cx="103.61" cy="333.9" r="2.9" fill="none" stroke="#ff0000" stroke-width="0.95"/>
<circle cx="109.28" cy="333.9" r="2.9" fill="none" stroke="#ff0000" stroke-width="0.95"/>
<circle cx="115.34" cy="333.9" r="2.9" fill="none" stroke="#ff0000" stroke-width="0.95"/>
<circle cx="120.92" cy="333.9" r="2.9" fill="none" stroke="#ff0000" stroke-width="0.95"/>
<circle cx="127.56" cy="333.9" r="2.9" fill="none" stroke="#ff0000" stroke-width="0.95"/>
<circle cx="132.24" cy="333.9" r="2.9" fill="none" stroke="#ff0000" stroke-width="0.95"/>
<circle cx="137.8" cy="333.9" r="2.9" fill="none" stroke="#ff0000" stroke-width="0.95"/>
<circle cx="145.08" cy="333.9" r="2.9" fill="none" stroke="#ff0000" stroke-width="0.95"/>
<circle cx="150.22" cy="333.9" r="2.9" fill="none" stroke="#ff0000" stroke-width="0.95"/>
<circle cx="156" cy="333.9" r="2.9" fill="none" stroke="#ff0000" stroke-width="0.95"/>
<circle cx="65.8" cy="339.7" r="2.9" fill="none" stroke="#ff0000" stroke-width="0.95"/>
<circle cx="67.4" cy="339.7" r="2.9" fill="none" stroke="#ff0000" stroke-width="0.95"/>
<circle cx="69" cy="339.7" r="2.9" fill="none" stroke="#ff0000" stroke-width="0.95"/>
<circle cx="71.8" cy="339.7" r="2.9" fill="none" stroke="#ff0000" stroke-width="0.95"/>
<circle cx="77.08" cy="339.7" r="2.9" fill="none" stroke="#ff0000" stroke-width="0.95"/>
<circle cx="83.89" cy="339.7" r="2.9" fill="none" stroke="#ff0000" stroke-width="0.95"/>
<circle cx="89.37" cy="339.7" r="2.9" fill="none" stroke="#ff0000" stroke-width="0.95"/>
<circle cx="96.56" cy="339.7" r="2.9" fill="none" stroke="#ff0000" stroke-width="0.95"/>
<circle cx="103.74" cy="339.7" r="2.9" fill="none" stroke="#ff0000" stroke-width="0.95"/>
<circle cx="110.06" cy="339.7" r="2.9" fill="none" stroke="#ff0000" stroke-width="0.95"/>
<circle cx="116.34" cy="339.7" r="2.9" fill="none" stroke="#ff0000" stroke-width="0.95"/>
<circle cx="122.24" cy="339.7" r="2.9" fill="none" stroke="#ff0000" stroke-width="0.95"/>
<circle cx="129.03" cy="339.7" r="2.9" fill="none" stroke="#ff0000" stroke-width="0.95"/>
<circle cx="135.36" cy="339.7" r="2.9" fill="none" stroke="#ff0000" stroke-width="0.95"/>
<circle cx="143.01" cy="339.7" r="2.9" fill="none" stroke="#ff0000" stroke-width="0.95"/>
<circle cx="149.33" cy="339.7" r="2.9" fill="none" stroke="#ff0000" stroke-width="0.95"/>
<circle cx="156" cy="339.7" r="2.9" fill="none" stroke="#ff0000" stroke-width="0.95"/>
<circle cx="71.3" cy="345.5" r="3.6" fill="none" stroke="#ff0000" stroke-width="0.95"/>
<circle cx="81.2" cy="345.5" r="3.6" fill="none" stroke="#ff0000" stroke-width="0.95"/>
<circle cx="90.3" cy="345.5" r="3.6" fill="none" stroke="#ff0000" stroke-width="0.95"/>
<circle cx="97.5" cy="345.5" r="3.6" fill="none" stroke="#ff0000" stroke-width="0.95"/>
<circle cx="108.8" cy="345.5" r="3.6" fill="none" stroke="#ff0000" stroke-width="0.95"/>
<circle cx="118.6" cy="345.5" r="3.6" fill="none" stroke="#ff0000" stroke-width="0.95"/>
<circle cx="128.5" cy="345.5" r="3.6" fill="none" stroke="#ff0000" stroke-width="0.95"/>
<circle cx="140" cy="345.5" r="3.6" fill="none" stroke="#ff0000" stroke-width="0.95"/>
<circle cx="152.8" cy="345.5" r="3.6" fill="none" stroke="#ff0000" stroke-width="0.95"/>
<line x1="65.8" y1="291.5" x2="65.8" y2="295.1" stroke="#243434" stroke-width="1.2"/>
<line x1="67.4" y1="291.5" x2="67.4" y2="295.1" stroke="#243434" stroke-width="1.2"/>
<line x1="69" y1="291.5" x2="69" y2="295.1" stroke="#243434" stroke-width="1.2"/>
<line x1="71.8" y1="291.5" x2="71.8" y2="295.1" stroke="#243434" stroke-width="1.2"/>
<line x1="74.36" y1="291.5" x2="74.36" y2="295.1" stroke="#243434" stroke-width="1.2"/>
<line x1="77.09" y1="291.5" x2="77.09" y2="295.1" stroke="#243434" stroke-width="1.2"/>
<line x1="80.95" y1="291.5" x2="80.95" y2="295.1" stroke="#243434" stroke-width="1.2"/>
<line x1="83.14" y1="291.5" x2="83.14" y2="295.1" stroke="#243434" stroke-width="1.2"/>
<line x1="87.02" y1="291.5" x2="87.02" y2="295.1" stroke="#243434" stroke-width="1.2"/>
<line x1="89.91" y1="291.5" x2="89.91" y2="295.1" stroke="#243434" stroke-width="1.2"/>
<line x1="92.6" y1="291.5" x2="92.6" y2="295.1" stroke="#243434" stroke-width="1.2"/>
<line x1="96.53" y1="291.5" x2="96.53" y2="295.1" stroke="#243434" stroke-width="1.2"/>
<line x1="99" y1="291.5" x2="99" y2="295.1" stroke="#243434" stroke-width="1.2"/>
<line x1="102.86" y1="291.5" x2="102.86" y2="295.1" stroke="#243434" stroke-width="1.2"/>
<line x1="105.53" y1="291.5" x2="105.53" y2="295.1" stroke="#243434" stroke-width="1.2"/>
<line x1="108.82" y1="291.5" x2="108.82" y2="295.1" stroke="#243434" stroke-width="1.2"/>
<line x1="112.63" y1="291.5" x2="112.63" y2="295.1" stroke="#243434" stroke-width="1.2"/>
<line x1="116.55" y1="291.5" x2="116.55" y2="295.1" stroke="#243434" stroke-width="1.2"/>
<line x1="118.72" y1="291.5" x2="118.72" y2="295.1" stroke="#243434" stroke-width="1.2"/>
<line x1="122.18" y1="291.5" x2="122.18" y2="295.1" stroke="#243434" stroke-width="1.2"/>
<line x1="126.13" y1="291.5" x2="126.13" y2="295.1" stroke="#243434" stroke-width="1.2"/>
<line x1="129.96" y1="291.5" x2="129.96" y2="295.1" stroke="#243434" stroke-width="1.2"/>
<line x1="132.69" y1="291.5" x2="132.69" y2="295.1" stroke="#243434" stroke-width="1.2"/>
<line x1="135.73" y1="291.5" x2="135.73" y2="295.1" stroke="#243434" stroke-width="1.2"/>
<line x1="139.99" y1="291.5" x2="139.99" y2="295.1" stroke="#243434" stroke-width="1.2"/>
<line x1="141.85" y1="291.5" x2="141.85" y2="295.1" stroke="#243434" stroke-width="1.2"/>
<line x1="146.49" y1="291.5" x2="146.49" y2="295.1" stroke="#243434" stroke-width="1.2"/>
<line x1="148.94" y1="291.5" x2="148.94" y2="295.1" stroke="#243434" stroke-width="1.2"/>
<line x1="152.07" y1="291.5" x2="152.07" y2="295.1" stroke="#243434" stroke-width="1.2"/>
<line x1="156" y1="291.5" x2="156" y2="295.1" stroke="#243434" stroke-width="1.2"/>
<line x1="65.8" y1="297.3" x2="65.8" y2="300.9" stroke="#243434" stroke-width="1.2"/>
<line x1="67.4" y1="297.3" x2="67.4" y2="300.9" stroke="#243434" stroke-width="1.2"/>
<line x1="69" y1="297.3" x2="69" y2="300.9" stroke="#243434" stroke-width="1.2"/>
<line x1="71.8" y1="297.3" x2="71.8" y2="300.9" stroke="#243434" stroke-width="1.2"/>
<line x1="74.28" y1="297.3" x2="74.28" y2="300.9" stroke="#243434" stroke-width="1.2"/>
<line x1="77.85" y1="297.3" x2="77.85" y2="300.9" stroke="#243434" stroke-width="1.2"/>
<line x1="81.99" y1="297.3" x2="81.99" y2="300.9" stroke="#243434" stroke-width="1.2"/>
<line x1="84.35" y1="297.3" x2="84.35" y2="300.9" stroke="#243434" stroke-width="1.2"/>
<line x1="88.41" y1="297.3" x2="88.41" y2="300.9" stroke="#243434" stroke-width="1.2"/>
<line x1="91.94" y1="297.3" x2="91.94" y2="300.9" stroke="#243434" stroke-width="1.2"/>
<line x1="94.97" y1="297.3" x2="94.97" y2="300.9" stroke="#243434" stroke-width="1.2"/>
<line x1="98.74" y1="297.3" x2="98.74" y2="300.9" stroke="#243434" stroke-width="1.2"/>
<line x1="101.46" y1="297.3" x2="101.46" y2="300.9" stroke="#243434" stroke-width="1.2"/>
<line x1="104.97" y1="297.3" x2="104.97" y2="300.9" stroke="#243434" stroke-width="1.2"/>
<line x1="108.74" y1="297.3" x2="108.74" y2="300.9" stroke="#243434" stroke-width="1.2"/>
<line x1="113.04" y1="297.3" x2="113.04" y2="300.9" stroke="#243434" stroke-width="1.2"/>
<line x1="116.19" y1="297.3" x2="116.19" y2="300.9" stroke="#243434" stroke-width="1.2"/>
<line x1="119.57" y1="297.3" x2="119.57" y2="300.9" stroke="#243434" stroke-width="1.2"/>
<line x1="123.58" y1="297.3" x2="123.58" y2="300.9" stroke="#243434" stroke-width="1.2"/>
<line x1="126.96" y1="297.3" x2="126.96" y2="300.9" stroke="#243434" stroke-width="1.2"/>
<line x1="130.3" y1="297.3" x2="130.3" y2="300.9" stroke="#243434" stroke-width="1.2"/>
<line x1="134.7" y1="297.3" x2="134.7" y2="300.9" stroke="#243434" stroke-width="1.2"/>
<line x1="138.16" y1="297.3" x2="138.16" y2="300.9" stroke="#243434" stroke-width="1.2"/>
<line x1="141.05" y1="297.3" x2="141.05" y2="300.9" stroke="#243434" stroke-width="1.2"/>
<line x1="145.2" y1="297.3" x2="145.2" y2="300.9" stroke="#243434" stroke-width="1.2"/>
<line x1="148.76" y1="297.3" x2="148.76" y2="300.9" stroke="#243434" stroke-width="1.2"/>
<line x1="152.95" y1="297.3" x2="152.95" y2="300.9" stroke="#243434" stroke-width="1.2"/>
<line x1="156" y1="297.3" x2="156" y2="300.9" stroke="#243434" stroke-width="1.2"/>
<line x1="65.8" y1="303.1" x2="65.8" y2="306.7" stroke="#243434" stroke-width="1.2"/>
<line x1="67.4" y1="303.1" x2="67.4" y2="306.7" stroke="#243434" stroke-width="1.2"/>
<line x1="69" y1="303.1" x2="69" y2="306.7" stroke="#243434" stroke-width="1.2"/>
<line x1="71.8" y1="303.1" x2="71.8" y2="306.7" stroke="#243434" stroke-width="1.2"/>
<line x1="75.4" y1="303.1" x2="75.4" y2="306.7" stroke="#243434" stroke-width="1.2"/>
<line x1="78.1" y1="303.1" x2="78.1" y2="306.7" stroke="#243434" stroke-width="1.2"/>
<line x1="82.69" y1="303.1" x2="82.69" y2="306.7" stroke="#243434" stroke-width="1.2"/>
<line x1="84.84" y1="303.1" x2="84.84" y2="306.7" stroke="#243434" stroke-width="1.2"/>
<line x1="88.89" y1="303.1" x2="88.89" y2="306.7" stroke="#243434" stroke-width="1.2"/>
<line x1="93.03" y1="303.1" x2="93.03" y2="306.7" stroke="#243434" stroke-width="1.2"/>
<line x1="95.68" y1="303.1" x2="95.68" y2="306.7" stroke="#243434" stroke-width="1.2"/>
<line x1="99.86" y1="303.1" x2="99.86" y2="306.7" stroke="#243434" stroke-width="1.2"/>
<line x1="102.8" y1="303.1" x2="102.8" y2="306.7" stroke="#243434" stroke-width="1.2"/>
<line x1="107.48" y1="303.1" x2="107.48" y2="306.7" stroke="#243434" stroke-width="1.2"/>
<line x1="111.32" y1="303.1" x2="111.32" y2="306.7" stroke="#243434" stroke-width="1.2"/>
<line x1="114.72" y1="303.1" x2="114.72" y2="306.7" stroke="#243434" stroke-width="1.2"/>
<line x1="118.92" y1="303.1" x2="118.92" y2="306.7" stroke="#243434" stroke-width="1.2"/>
<line x1="121.75" y1="303.1" x2="121.75" y2="306.7" stroke="#243434" stroke-width="1.2"/>
<line x1="126.09" y1="303.1" x2="126.09" y2="306.7" stroke="#243434" stroke-width="1.2"/>
<line x1="129.68" y1="303.1" x2="129.68" y2="306.7" stroke="#243434" stroke-width="1.2"/>
<line x1="133.41" y1="303.1" x2="133.41" y2="306.7" stroke="#243434" stroke-width="1.2"/>
<line x1="136.98" y1="303.1" x2="136.98" y2="306.7" stroke="#243434" stroke-width="1.2"/>
<line x1="141.37" y1="303.1" x2="141.37" y2="306.7" stroke="#243434" stroke-width="1.2"/>
<line x1="145.32" y1="303.1" x2="145.32" y2="306.7" stroke="#243434" stroke-width="1.2"/>
<line x1="148.36" y1="303.1" x2="148.36" y2="306.7" stroke="#243434" stroke-width="1.2"/>
<line x1="152.46" y1="303.1" x2="152.46" y2="306.7" stroke="#243434" stroke-width="1.2"/>
<line x1="156" y1="303.1" x2="156" y2="306.7" stroke="#243434" stroke-width="1.2"/>
<line x1="65.8" y1="308.9" x2="65.8" y2="312.5" stroke="#243434" stroke-width="1.2"/>
<line x1="67.4" y1="308.9" x2="67.4" y2="312.5" stroke="#243434" stroke-width="1.2"/>
<line x1="69" y1="308.9" x2="69" y2="312.5" stroke="#243434" stroke-width="1.2"/>
<line x1="71.8" y1="308.9" x2="71.8" y2="312.5" stroke="#243434" stroke-width="1.2"/>
<line x1="74.65" y1="308.9" x2="74.65" y2="312.5" stroke="#243434" stroke-width="1.2"/>
<line x1="79.42" y1="308.9" x2="79.42" y2="312.5" stroke="#243434" stroke-width="1.2"/>
<line x1="83.16" y1="308.9" x2="83.16" y2="312.5" stroke="#243434" stroke-width="1.2"/>
<line x1="87.6" y1="308.9" x2="87.6" y2="312.5" stroke="#243434" stroke-width="1.2"/>
<line x1="91.24" y1="308.9" x2="91.24" y2="312.5" stroke="#243434" stroke-width="1.2"/>
<line x1="94.34" y1="308.9" x2="94.34" y2="312.5" stroke="#243434" stroke-width="1.2"/>
<line x1="98.48" y1="308.9" x2="98.48" y2="312.5" stroke="#243434" stroke-width="1.2"/>
<line x1="102.93" y1="308.9" x2="102.93" y2="312.5" stroke="#243434" stroke-width="1.2"/>
<line x1="105.92" y1="308.9" x2="105.92" y2="312.5" stroke="#243434" stroke-width="1.2"/>
<line x1="110.66" y1="308.9" x2="110.66" y2="312.5" stroke="#243434" stroke-width="1.2"/>
<line x1="114.25" y1="308.9" x2="114.25" y2="312.5" stroke="#243434" stroke-width="1.2"/>
<line x1="118.24" y1="308.9" x2="118.24" y2="312.5" stroke="#243434" stroke-width="1.2"/>
<line x1="122.23" y1="308.9" x2="122.23" y2="312.5" stroke="#243434" stroke-width="1.2"/>
<line x1="127.46" y1="308.9" x2="127.46" y2="312.5" stroke="#243434" stroke-width="1.2"/>
<line x1="130.55" y1="308.9" x2="130.55" y2="312.5" stroke="#243434" stroke-width="1.2"/>
<line x1="134.85" y1="308.9" x2="134.85" y2="312.5" stroke="#243434" stroke-width="1.2"/>
<line x1="139.21" y1="308.9" x2="139.21" y2="312.5" stroke="#243434" stroke-width="1.2"/>
<line x1="144.12" y1="308.9" x2="144.12" y2="312.5" stroke="#243434" stroke-width="1.2"/>
<line x1="147.01" y1="308.9" x2="147.01" y2="312.5" stroke="#243434" stroke-width="1.2"/>
<line x1="151.75" y1="308.9" x2="151.75" y2="312.5" stroke="#243434" stroke-width="1.2"/>
<line x1="156" y1="308.9" x2="156" y2="312.5" stroke="#243434" stroke-width="1.2"/>
<line x1="48.8" y1="291.2" x2="48.8" y2="365.4" stroke="#2a2a2a" stroke-width="1"/>
<line x1="48.3" y1="364.9" x2="231" y2="364.9" stroke="#2a2a2a" stroke-width="1.3"/>
<line x1="48.8" y1="305.2" x2="50.6" y2="305.2" stroke="#111" stroke-width="1"/>
<line x1="48.8" y1="328.4" x2="50.6" y2="328.4" stroke="#111" stroke-width="1"/>
<line x1="48.8" y1="350.8" x2="50.6" y2="350.8" stroke="#111" stroke-width="1"/>
<line x1="93.5" y1="364.9" x2="93.5" y2="363.1" stroke="#111" stroke-width="1"/>
<line x1="139.3" y1="364.9" x2="139.3" y2="363.1" stroke="#111" stroke-width="1"/>
<line x1="185.1" y1="364.9" x2="185.1" y2="363.1" stroke="#111" stroke-width="1"/>
<defs><linearGradient id="pg" x1="0" x2="1" y1="0" y2="0"><stop offset="0" stop-color="#888" stop-opacity="0.45"/><stop offset="1" stop-color="#888" stop-opacity="0"/></linearGradient></defs>
<rect x="157.6" y="354" width="36" height="10.6" fill="url(#pg)" stroke="none" stroke-width="1"/>
<rect x="157.4" y="474.8" width="30" height="11.1" fill="url(#pg)" stroke="none" stroke-width="1"/>
<ellipse cx="77.8" cy="322.5" rx="1.3" ry="2" fill="#111"/>
<ellipse cx="109.5" cy="322.5" rx="1.3" ry="2" fill="#111"/>
<ellipse cx="107.4" cy="328.4" rx="1.3" ry="2" fill="#111"/>
<ellipse cx="140.1" cy="322.5" rx="1.3" ry="2" fill="#111"/>
<ellipse cx="74.7" cy="334.2" rx="1.3" ry="2" fill="#111"/>
<rect x="46.6" y="412.5" width="183.2" height="74.2" fill="#a8a8a8" stroke="none" stroke-width="1"/>
<rect x="64" y="463.6" width="93.6" height="5.8" fill="#999999" stroke="none" stroke-width="1"/>
<rect x="64" y="469.4" width="93.6" height="6" fill="#a9a9a9" stroke="none" stroke-width="1"/>
<rect x="64" y="475.4" width="93.6" height="5.8" fill="#b9b9b9" stroke="none" stroke-width="1"/>
<rect x="64" y="481.2" width="93.6" height="5.5" fill="#c9c9c9" stroke="none" stroke-width="1"/>
<rect x="64" y="411.9" width="93.6" height="52.28" fill="#889595" stroke="none" stroke-width="1"/>
<line x1="65.8" y1="453.67" x2="65.8" y2="457.27" stroke="#3e5050" stroke-width="1.2"/>
<line x1="67.4" y1="453.67" x2="67.4" y2="457.27" stroke="#3e5050" stroke-width="1.2"/>
<line x1="69" y1="453.67" x2="69" y2="457.27" stroke="#3e5050" stroke-width="1.2"/>
<line x1="71.8" y1="453.67" x2="71.8" y2="457.27" stroke="#3e5050" stroke-width="1.2"/>
<line x1="78.37" y1="453.67" x2="78.37" y2="457.27" stroke="#3e5050" stroke-width="1.2"/>
<line x1="85.35" y1="453.67" x2="85.35" y2="457.27" stroke="#3e5050" stroke-width="1.2"/>
<line x1="91.05" y1="453.67" x2="91.05" y2="457.27" stroke="#3e5050" stroke-width="1.2"/>
<line x1="99.23" y1="453.67" x2="99.23" y2="457.27" stroke="#3e5050" stroke-width="1.2"/>
<line x1="104.98" y1="453.67" x2="104.98" y2="457.27" stroke="#3e5050" stroke-width="1.2"/>
<line x1="113.33" y1="453.67" x2="113.33" y2="457.27" stroke="#3e5050" stroke-width="1.2"/>
<line x1="119.8" y1="453.67" x2="119.8" y2="457.27" stroke="#3e5050" stroke-width="1.2"/>
<line x1="126.77" y1="453.67" x2="126.77" y2="457.27" stroke="#3e5050" stroke-width="1.2"/>
<line x1="134.31" y1="453.67" x2="134.31" y2="457.27" stroke="#3e5050" stroke-width="1.2"/>
<line x1="142.14" y1="453.67" x2="142.14" y2="457.27" stroke="#3e5050" stroke-width="1.2"/>
<line x1="148.34" y1="453.67" x2="148.34" y2="457.27" stroke="#3e5050" stroke-width="1.2"/>
<line x1="156" y1="453.67" x2="156" y2="457.27" stroke="#3e5050" stroke-width="1.2"/>
<line x1="68.8" y1="459.48" x2="68.8" y2="463.08" stroke="#3e5050" stroke-width="1.2"/>
<line x1="73.1" y1="459.48" x2="73.1" y2="463.08" stroke="#3e5050" stroke-width="1.2"/>
<line x1="84.4" y1="459.48" x2="84.4" y2="463.08" stroke="#3e5050" stroke-width="1.2"/>
<line x1="96.6" y1="459.48" x2="96.6" y2="463.08" stroke="#3e5050" stroke-width="1.2"/>
<line x1="111" y1="459.48" x2="111" y2="463.08" stroke="#3e5050" stroke-width="1.2"/>
<line x1="127.1" y1="459.48" x2="127.1" y2="463.08" stroke="#3e5050" stroke-width="1.2"/>
<line x1="142.5" y1="459.48" x2="142.5" y2="463.08" stroke="#3e5050" stroke-width="1.2"/>
<circle cx="65.8" cy="414.8" r="2.9" fill="none" stroke="#ff0000" stroke-width="0.95"/>
<circle cx="67.4" cy="414.8" r="2.9" fill="none" stroke="#ff0000" stroke-width="0.95"/>
<circle cx="69" cy="414.8" r="2.9" fill="none" stroke="#ff0000" stroke-width="0.95"/>
<circle cx="71.8" cy="414.8" r="2.9" fill="none" stroke="#ff0000" stroke-width="0.95"/>
<circle cx="74.54" cy="414.8" r="2.9" fill="none" stroke="#ff0000" stroke-width="0.95"/>
<circle cx="76.24" cy="414.8" r="2.9" fill="none" stroke="#ff0000" stroke-width="0.95"/>
<circle cx="78.54" cy="414.8" r="2.9" fill="none" stroke="#ff0000" stroke-width="0.95"/>
<circle cx="81.98" cy="414.8" r="2.9" fill="none" stroke="#ff0000" stroke-width="0.95"/>
<circle cx="84.79" cy="414.8" r="2.9" fill="none" stroke="#ff0000" stroke-width="0.95"/>
<circle cx="87.13" cy="414.8" r="2.9" fill="none" stroke="#ff0000" stroke-width="0.95"/>
<circle cx="89.62" cy="414.8" r="2.9" fill="none" stroke="#ff0000" stroke-width="0.95"/>
<circle cx="92.22" cy="414.8" r="2.9" fill="none" stroke="#ff0000" stroke-width="0.95"/>
<circle cx="94.69" cy="414.8" r="2.9" fill="none" stroke="#ff0000" stroke-width="0.95"/>
<circle cx="96.48" cy="414.8" r="2.9" fill="none" stroke="#ff0000" stroke-width="0.95"/>
<circle cx="99.56" cy="414.8" r="2.9" fill="none" stroke="#ff0000" stroke-width="0.95"/>
<circle cx="101.93" cy="414.8" r="2.9" fill="none" stroke="#ff0000" stroke-width="0.95"/>
<circle cx="104.04" cy="414.8" r="2.9" fill="none" stroke="#ff0000" stroke-width="0.95"/>
<circle cx="106.68" cy="414.8" r="2.9" fill="none" stroke="#ff0000" stroke-width="0.95"/>
<circle cx="109.74" cy="414.8" r="2.9" fill="none" stroke="#ff0000" stroke-width="0.95"/>
<circle cx="112.36" cy="414.8" r="2.9" fill="none" stroke="#ff0000" stroke-width="0.95"/>
<circle cx="115.72" cy="414.8" r="2.9" fill="none" stroke="#ff0000" stroke-width="0.95"/>
<circle cx="118.82" cy="414.8" r="2.9" fill="none" stroke="#ff0000" stroke-width="0.95"/>
<circle cx="120.68" cy="414.8" r="2.9" fill="none" stroke="#ff0000" stroke-width="0.95"/>
<circle cx="124.14" cy="414.8" r="2.9" fill="none" stroke="#ff0000" stroke-width="0.95"/>
<circle cx="126.91" cy="414.8" r="2.9" fill="none" stroke="#ff0000" stroke-width="0.95"/>
<circle cx="129.55" cy="414.8" r="2.9" fill="none" stroke="#ff0000" stroke-width="0.95"/>
<circle cx="131.31" cy="414.8" r="2.9" fill="none" stroke="#ff0000" stroke-width="0.95"/>
<circle cx="133.78" cy="414.8" r="2.9" fill="none" stroke="#ff0000" stroke-width="0.95"/>
<circle cx="136.5" cy="414.8" r="2.9" fill="none" stroke="#ff0000" stroke-width="0.95"/>
<circle cx="139.16" cy="414.8" r="2.9" fill="none" stroke="#ff0000" stroke-width="0.95"/>
<circle cx="141.89" cy="414.8" r="2.9" fill="none" stroke="#ff0000" stroke-width="0.95"/>
<circle cx="145.28" cy="414.8" r="2.9" fill="none" stroke="#ff0000" stroke-width="0.95"/>
<circle cx="148.45" cy="414.8" r="2.9" fill="none" stroke="#ff0000" stroke-width="0.95"/>
<circle cx="151.08" cy="414.8" r="2.9" fill="none" stroke="#ff0000" stroke-width="0.95"/>
<circle cx="153.23" cy="414.8" r="2.9" fill="none" stroke="#ff0000" stroke-width="0.95"/>
<circle cx="156" cy="414.8" r="2.9" fill="none" stroke="#ff0000" stroke-width="0.95"/>
<circle cx="65.8" cy="420.61" r="2.9" fill="none" stroke="#ff0000" stroke-width="0.95"/>
<circle cx="67.4" cy="420.61" r="2.9" fill="none" stroke="#ff0000" stroke-width="0.95"/>
<circle cx="69" cy="420.61" r="2.9" fill="none" stroke="#ff0000" stroke-width="0.95"/>
<circle cx="71.8" cy="420.61" r="2.9" fill="none" stroke="#ff0000" stroke-width="0.95"/>
<circle cx="74.49" cy="420.61" r="2.9" fill="none" stroke="#ff0000" stroke-width="0.95"/>
<circle cx="77.32" cy="420.61" r="2.9" fill="none" stroke="#ff0000" stroke-width="0.95"/>
<circle cx="78.81" cy="420.61" r="2.9" fill="none" stroke="#ff0000" stroke-width="0.95"/>
<circle cx="82.41" cy="420.61" r="2.9" fill="none" stroke="#ff0000" stroke-width="0.95"/>
<circle cx="85.52" cy="420.61" r="2.9" fill="none" stroke="#ff0000" stroke-width="0.95"/>
<circle cx="88.04" cy="420.61" r="2.9" fill="none" stroke="#ff0000" stroke-width="0.95"/>
<circle cx="90.74" cy="420.61" r="2.9" fill="none" stroke="#ff0000" stroke-width="0.95"/>
<circle cx="93.06" cy="420.61" r="2.9" fill="none" stroke="#ff0000" stroke-width="0.95"/>
<circle cx="95.36" cy="420.61" r="2.9" fill="none" stroke="#ff0000" stroke-width="0.95"/>
<circle cx="99.12" cy="420.61" r="2.9" fill="none" stroke="#ff0000" stroke-width="0.95"/>
<circle cx="101.19" cy="420.61" r="2.9" fill="none" stroke="#ff0000" stroke-width="0.95"/>
<circle cx="104.75" cy="420.61" r="2.9" fill="none" stroke="#ff0000" stroke-width="0.95"/>
<circle cx="107.84" cy="420.61" r="2.9" fill="none" stroke="#ff0000" stroke-width="0.95"/>
<circle cx="109.75" cy="420.61" r="2.9" fill="none" stroke="#ff0000" stroke-width="0.95"/>
<circle cx="112.59" cy="420.61" r="2.9" fill="none" stroke="#ff0000" stroke-width="0.95"/>
<circle cx="116.31" cy="420.61" r="2.9" fill="none" stroke="#ff0000" stroke-width="0.95"/>
<circle cx="118.8" cy="420.61" r="2.9" fill="none" stroke="#ff0000" stroke-width="0.95"/>
<circle cx="120.77" cy="420.61" r="2.9" fill="none" stroke="#ff0000" stroke-width="0.95"/>
<circle cx="123.56" cy="420.61" r="2.9" fill="none" stroke="#ff0000" stroke-width="0.95"/>
<circle cx="126.47" cy="420.61" r="2.9" fill="none" stroke="#ff0000" stroke-width="0.95"/>
<circle cx="130.55" cy="420.61" r="2.9" fill="none" stroke="#ff0000" stroke-width="0.95"/>
<circle cx="133.28" cy="420.61" r="2.9" fill="none" stroke="#ff0000" stroke-width="0.95"/>
<circle cx="135.1" cy="420.61" r="2.9" fill="none" stroke="#ff0000" stroke-width="0.95"/>
<circle cx="139.08" cy="420.61" r="2.9" fill="none" stroke="#ff0000" stroke-width="0.95"/>
<circle cx="142.23" cy="420.61" r="2.9" fill="none" stroke="#ff0000" stroke-width="0.95"/>
<circle cx="144.61" cy="420.61" r="2.9" fill="none" stroke="#ff0000" stroke-width="0.95"/>
<circle cx="147.02" cy="420.61" r="2.9" fill="none" stroke="#ff0000" stroke-width="0.95"/>
<circle cx="150.25" cy="420.61" r="2.9" fill="none" stroke="#ff0000" stroke-width="0.95"/>
<circle cx="152.49" cy="420.61" r="2.9" fill="none" stroke="#ff0000" stroke-width="0.95"/>
<circle cx="156" cy="420.61" r="2.9" fill="none" stroke="#ff0000" stroke-width="0.95"/>
<circle cx="65.8" cy="426.42" r="2.9" fill="none" stroke="#ff0000" stroke-width="0.95"/>
<circle cx="67.4" cy="426.42" r="2.9" fill="none" stroke="#ff0000" stroke-width="0.95"/>
<circle cx="69" cy="426.42" r="2.9" fill="none" stroke="#ff0000" stroke-width="0.95"/>
<circle cx="71.8" cy="426.42" r="2.9" fill="none" stroke="#ff0000" stroke-width="0.95"/>
<circle cx="73.65" cy="426.42" r="2.9" fill="none" stroke="#ff0000" stroke-width="0.95"/>
<circle cx="77.97" cy="426.42" r="2.9" fill="none" stroke="#ff0000" stroke-width="0.95"/>
<circle cx="80.29" cy="426.42" r="2.9" fill="none" stroke="#ff0000" stroke-width="0.95"/>
<circle cx="82.97" cy="426.42" r="2.9" fill="none" stroke="#ff0000" stroke-width="0.95"/>
<circle cx="86.53" cy="426.42" r="2.9" fill="none" stroke="#ff0000" stroke-width="0.95"/>
<circle cx="88.66" cy="426.42" r="2.9" fill="none" stroke="#ff0000" stroke-width="0.95"/>
<circle cx="92.31" cy="426.42" r="2.9" fill="none" stroke="#ff0000" stroke-width="0.95"/>
<circle cx="95.2" cy="426.42" r="2.9" fill="none" stroke="#ff0000" stroke-width="0.95"/>
<circle cx="97.2" cy="426.42" r="2.9" fill="none" stroke="#ff0000" stroke-width="0.95"/>
<circle cx="100.26" cy="426.42" r="2.9" fill="none" stroke="#ff0000" stroke-width="0.95"/>
<circle cx="103.33" cy="426.42" r="2.9" fill="none" stroke="#ff0000" stroke-width="0.95"/>
<circle cx="106.27" cy="426.42" r="2.9" fill="none" stroke="#ff0000" stroke-width="0.95"/>
<circle cx="109.85" cy="426.42" r="2.9" fill="none" stroke="#ff0000" stroke-width="0.95"/>
<circle cx="112.36" cy="426.42" r="2.9" fill="none" stroke="#ff0000" stroke-width="0.95"/>
<circle cx="115.67" cy="426.42" r="2.9" fill="none" stroke="#ff0000" stroke-width="0.95"/>
<circle cx="118.26" cy="426.42" r="2.9" fill="none" stroke="#ff0000" stroke-width="0.95"/>
<circle cx="122.57" cy="426.42" r="2.9" fill="none" stroke="#ff0000" stroke-width="0.95"/>
<circle cx="124.75" cy="426.42" r="2.9" fill="none" stroke="#ff0000" stroke-width="0.95"/>
<circle cx="127.99" cy="426.42" r="2.9" fill="none" stroke="#ff0000" stroke-width="0.95"/>
<circle cx="131.27" cy="426.42" r="2.9" fill="none" stroke="#ff0000" stroke-width="0.95"/>
<circle cx="134.87" cy="426.42" r="2.9" fill="none" stroke="#ff0000" stroke-width="0.95"/>
<circle cx="137.2" cy="426.42" r="2.9" fill="none" stroke="#ff0000" stroke-width="0.95"/>
<circle cx="141.09" cy="426.42" r="2.9" fill="none" stroke="#ff0000" stroke-width="0.95"/>
<circle cx="143.53" cy="426.42" r="2.9" fill="none" stroke="#ff0000" stroke-width="0.95"/>
<circle cx="146.69" cy="426.42" r="2.9" fill="none" stroke="#ff0000" stroke-width="0.95"/>
<circle cx="149.79" cy="426.42" r="2.9" fill="none" stroke="#ff0000" stroke-width="0.95"/>
<circle cx="152.1" cy="426.42" r="2.9" fill="none" stroke="#ff0000" stroke-width="0.95"/>
<circle cx="156" cy="426.42" r="2.9" fill="none" stroke="#ff0000" stroke-width="0.95"/>
<circle cx="65.8" cy="432.23" r="2.9" fill="none" stroke="#ff0000" stroke-width="0.95"/>
<circle cx="67.4" cy="432.23" r="2.9" fill="none" stroke="#ff0000" stroke-width="0.95"/>
<circle cx="69" cy="432.23" r="2.9" fill="none" stroke="#ff0000" stroke-width="0.95"/>
<circle cx="71.8" cy="432.23" r="2.9" fill="none" stroke="#ff0000" stroke-width="0.95"/>
<circle cx="74.44" cy="432.23" r="2.9" fill="none" stroke="#ff0000" stroke-width="0.95"/>
<circle cx="76.91" cy="432.23" r="2.9" fill="none" stroke="#ff0000" stroke-width="0.95"/>
<circle cx="79.57" cy="432.23" r="2.9" fill="none" stroke="#ff0000" stroke-width="0.95"/>
<circle cx="83.84" cy="432.23" r="2.9" fill="none" stroke="#ff0000" stroke-width="0.95"/>
<circle cx="85.85" cy="432.23" r="2.9" fill="none" stroke="#ff0000" stroke-width="0.95"/>
<circle cx="89.38" cy="432.23" r="2.9" fill="none" stroke="#ff0000" stroke-width="0.95"/>
<circle cx="92.84" cy="432.23" r="2.9" fill="none" stroke="#ff0000" stroke-width="0.95"/>
<circle cx="95.65" cy="432.23" r="2.9" fill="none" stroke="#ff0000" stroke-width="0.95"/>
<circle cx="98.38" cy="432.23" r="2.9" fill="none" stroke="#ff0000" stroke-width="0.95"/>
<circle cx="101.8" cy="432.23" r="2.9" fill="none" stroke="#ff0000" stroke-width="0.95"/>
<circle cx="104.98" cy="432.23" r="2.9" fill="none" stroke="#ff0000" stroke-width="0.95"/>
<circle cx="108.48" cy="432.23" r="2.9" fill="none" stroke="#ff0000" stroke-width="0.95"/>
<circle cx="110.54" cy="432.23" r="2.9" fill="none" stroke="#ff0000" stroke-width="0.95"/>
<circle cx="114.42" cy="432.23" r="2.9" fill="none" stroke="#ff0000" stroke-width="0.95"/>
<circle cx="117.09" cy="432.23" r="2.9" fill="none" stroke="#ff0000" stroke-width="0.95"/>
<circle cx="120.31" cy="432.23" r="2.9" fill="none" stroke="#ff0000" stroke-width="0.95"/>
<circle cx="124.28" cy="432.23" r="2.9" fill="none" stroke="#ff0000" stroke-width="0.95"/>
<circle cx="127.04" cy="432.23" r="2.9" fill="none" stroke="#ff0000" stroke-width="0.95"/>
<circle cx="130.32" cy="432.23" r="2.9" fill="none" stroke="#ff0000" stroke-width="0.95"/>
<circle cx="133.84" cy="432.23" r="2.9" fill="none" stroke="#ff0000" stroke-width="0.95"/>
<circle cx="137.29" cy="432.23" r="2.9" fill="none" stroke="#ff0000" stroke-width="0.95"/>
<circle cx="139.76" cy="432.23" r="2.9" fill="none" stroke="#ff0000" stroke-width="0.95"/>
<circle cx="143.25" cy="432.23" r="2.9" fill="none" stroke="#ff0000" stroke-width="0.95"/>
<circle cx="146.3" cy="432.23" r="2.9" fill="none" stroke="#ff0000" stroke-width="0.95"/>
<circle cx="149.54" cy="432.23" r="2.9" fill="none" stroke="#ff0000" stroke-width="0.95"/>
<circle cx="153.07" cy="432.23" r="2.9" fill="none" stroke="#ff0000" stroke-width="0.95"/>
<circle cx="156" cy="432.23" r="2.9" fill="none" stroke="#ff0000" stroke-width="0.95"/>
<circle cx="65.8" cy="438.04" r="2.9" fill="none" stroke="#ff0000" stroke-width="0.95"/>
<circle cx="67.4" cy="438.04" r="2.9" fill="none" stroke="#ff0000" stroke-width="0.95"/>
<circle cx="69" cy="438.04" r="2.9" fill="none" stroke="#ff0000" stroke-width="0.95"/>
<circle cx="71.8" cy="438.04" r="2.9" fill="none" stroke="#ff0000" stroke-width="0.95"/>
<circle cx="74.57" cy="438.04" r="2.9" fill="none" stroke="#ff0000" stroke-width="0.95"/>
<circle cx="77.7" cy="438.04" r="2.9" fill="none" stroke="#ff0000" stroke-width="0.95"/>
<circle cx="80.68" cy="438.04" r="2.9" fill="none" stroke="#ff0000" stroke-width="0.95"/>
<circle cx="84.53" cy="438.04" r="2.9" fill="none" stroke="#ff0000" stroke-width="0.95"/>
<circle cx="87.28" cy="438.04" r="2.9" fill="none" stroke="#ff0000" stroke-width="0.95"/>
<circle cx="90.73" cy="438.04" r="2.9" fill="none" stroke="#ff0000" stroke-width="0.95"/>
<circle cx="94.02" cy="438.04" r="2.9" fill="none" stroke="#ff0000" stroke-width="0.95"/>
<circle cx="96.13" cy="438.04" r="2.9" fill="none" stroke="#ff0000" stroke-width="0.95"/>
<circle cx="99.83" cy="438.04" r="2.9" fill="none" stroke="#ff0000" stroke-width="0.95"/>
<circle cx="103.68" cy="438.04" r="2.9" fill="none" stroke="#ff0000" stroke-width="0.95"/>
<circle cx="106.76" cy="438.04" r="2.9" fill="none" stroke="#ff0000" stroke-width="0.95"/>
<circle cx="108.9" cy="438.04" r="2.9" fill="none" stroke="#ff0000" stroke-width="0.95"/>
<circle cx="112.14" cy="438.04" r="2.9" fill="none" stroke="#ff0000" stroke-width="0.95"/>
<circle cx="115.94" cy="438.04" r="2.9" fill="none" stroke="#ff0000" stroke-width="0.95"/>
<circle cx="118.64" cy="438.04" r="2.9" fill="none" stroke="#ff0000" stroke-width="0.95"/>
<circle cx="122.2" cy="438.04" r="2.9" fill="none" stroke="#ff0000" stroke-width="0.95"/>
<circle cx="125.24" cy="438.04" r="2.9" fill="none" stroke="#ff0000" stroke-width="0.95"/>
<circle cx="129.51" cy="438.04" r="2.9" fill="none" stroke="#ff0000" stroke-width="0.95"/>
<circle cx="133.02" cy="438.04" r="2.9" fill="none" stroke="#ff0000" stroke-width="0.95"/>
<circle cx="136.53" cy="438.04" r="2.9" fill="none" stroke="#ff0000" stroke-width="0.95"/>
<circle cx="138.68" cy="438.04" r="2.9" fill="none" stroke="#ff0000" stroke-width="0.95"/>
<circle cx="142.92" cy="438.04" r="2.9" fill="none" stroke="#ff0000" stroke-width="0.95"/>
<circle cx="146.18" cy="438.04" r="2.9" fill="none" stroke="#ff0000" stroke-width="0.95"/>
<circle cx="148.7" cy="438.04" r="2.9" fill="none" stroke="#ff0000" stroke-width="0.95"/>
<circle cx="153.25" cy="438.04" r="2.9" fill="none" stroke="#ff0000" stroke-width="0.95"/>
<circle cx="156" cy="438.04" r="2.9" fill="none" stroke="#ff0000" stroke-width="0.95"/>
<circle cx="65.8" cy="443.85" r="2.9" fill="none" stroke="#ff0000" stroke-width="0.95"/>
<circle cx="67.4" cy="443.85" r="2.9" fill="none" stroke="#ff0000" stroke-width="0.95"/>
<circle cx="69" cy="443.85" r="2.9" fill="none" stroke="#ff0000" stroke-width="0.95"/>
<circle cx="71.8" cy="443.85" r="2.9" fill="none" stroke="#ff0000" stroke-width="0.95"/>
<circle cx="75.51" cy="443.85" r="2.9" fill="none" stroke="#ff0000" stroke-width="0.95"/>
<circle cx="77.44" cy="443.85" r="2.9" fill="none" stroke="#ff0000" stroke-width="0.95"/>
<circle cx="81.81" cy="443.85" r="2.9" fill="none" stroke="#ff0000" stroke-width="0.95"/>
<circle cx="84.16" cy="443.85" r="2.9" fill="none" stroke="#ff0000" stroke-width="0.95"/>
<circle cx="87.57" cy="443.85" r="2.9" fill="none" stroke="#ff0000" stroke-width="0.95"/>
<circle cx="91.67" cy="443.85" r="2.9" fill="none" stroke="#ff0000" stroke-width="0.95"/>
<circle cx="94.74" cy="443.85" r="2.9" fill="none" stroke="#ff0000" stroke-width="0.95"/>
<circle cx="97" cy="443.85" r="2.9" fill="none" stroke="#ff0000" stroke-width="0.95"/>
<circle cx="100.79" cy="443.85" r="2.9" fill="none" stroke="#ff0000" stroke-width="0.95"/>
<circle cx="104.29" cy="443.85" r="2.9" fill="none" stroke="#ff0000" stroke-width="0.95"/>
<circle cx="107.39" cy="443.85" r="2.9" fill="none" stroke="#ff0000" stroke-width="0.95"/>
<circle cx="110.56" cy="443.85" r="2.9" fill="none" stroke="#ff0000" stroke-width="0.95"/>
<circle cx="114.16" cy="443.85" r="2.9" fill="none" stroke="#ff0000" stroke-width="0.95"/>
<circle cx="118.23" cy="443.85" r="2.9" fill="none" stroke="#ff0000" stroke-width="0.95"/>
<circle cx="120.53" cy="443.85" r="2.9" fill="none" stroke="#ff0000" stroke-width="0.95"/>
<circle cx="124.82" cy="443.85" r="2.9" fill="none" stroke="#ff0000" stroke-width="0.95"/>
<circle cx="128.08" cy="443.85" r="2.9" fill="none" stroke="#ff0000" stroke-width="0.95"/>
<circle cx="130.86" cy="443.85" r="2.9" fill="none" stroke="#ff0000" stroke-width="0.95"/>
<circle cx="134.82" cy="443.85" r="2.9" fill="none" stroke="#ff0000" stroke-width="0.95"/>
<circle cx="138.76" cy="443.85" r="2.9" fill="none" stroke="#ff0000" stroke-width="0.95"/>
<circle cx="142.06" cy="443.85" r="2.9" fill="none" stroke="#ff0000" stroke-width="0.95"/>
<circle cx="144.82" cy="443.85" r="2.9" fill="none" stroke="#ff0000" stroke-width="0.95"/>
<circle cx="149.78" cy="443.85" r="2.9" fill="none" stroke="#ff0000" stroke-width="0.95"/>
<circle cx="152.96" cy="443.85" r="2.9" fill="none" stroke="#ff0000" stroke-width="0.95"/>
<circle cx="156" cy="443.85" r="2.9" fill="none" stroke="#ff0000" stroke-width="0.95"/>
<circle cx="65.8" cy="449.66" r="2.9" fill="none" stroke="#ff0000" stroke-width="0.95"/>
<circle cx="67.4" cy="449.66" r="2.9" fill="none" stroke="#ff0000" stroke-width="0.95"/>
<circle cx="69" cy="449.66" r="2.9" fill="none" stroke="#ff0000" stroke-width="0.95"/>
<circle cx="71.8" cy="449.66" r="2.9" fill="none" stroke="#ff0000" stroke-width="0.95"/>
<circle cx="75.94" cy="449.66" r="2.9" fill="none" stroke="#ff0000" stroke-width="0.95"/>
<circle cx="78.12" cy="449.66" r="2.9" fill="none" stroke="#ff0000" stroke-width="0.95"/>
<circle cx="82.03" cy="449.66" r="2.9" fill="none" stroke="#ff0000" stroke-width="0.95"/>
<circle cx="85.36" cy="449.66" r="2.9" fill="none" stroke="#ff0000" stroke-width="0.95"/>
<circle cx="90.28" cy="449.66" r="2.9" fill="none" stroke="#ff0000" stroke-width="0.95"/>
<circle cx="93.23" cy="449.66" r="2.9" fill="none" stroke="#ff0000" stroke-width="0.95"/>
<circle cx="96.8" cy="449.66" r="2.9" fill="none" stroke="#ff0000" stroke-width="0.95"/>
<circle cx="101.08" cy="449.66" r="2.9" fill="none" stroke="#ff0000" stroke-width="0.95"/>
<circle cx="105.69" cy="449.66" r="2.9" fill="none" stroke="#ff0000" stroke-width="0.95"/>
<circle cx="109.39" cy="449.66" r="2.9" fill="none" stroke="#ff0000" stroke-width="0.95"/>
<circle cx="112.36" cy="449.66" r="2.9" fill="none" stroke="#ff0000" stroke-width="0.95"/>
<circle cx="116.07" cy="449.66" r="2.9" fill="none" stroke="#ff0000" stroke-width="0.95"/>
<circle cx="121.19" cy="449.66" r="2.9" fill="none" stroke="#ff0000" stroke-width="0.95"/>
<circle cx="124.53" cy="449.66" r="2.9" fill="none" stroke="#ff0000" stroke-width="0.95"/>
<circle cx="128.66" cy="449.66" r="2.9" fill="none" stroke="#ff0000" stroke-width="0.95"/>
<circle cx="131.6" cy="449.66" r="2.9" fill="none" stroke="#ff0000" stroke-width="0.95"/>
<circle cx="135.49" cy="449.66" r="2.9" fill="none" stroke="#ff0000" stroke-width="0.95"/>
<circle cx="140.44" cy="449.66" r="2.9" fill="none" stroke="#ff0000" stroke-width="0.95"/>
<circle cx="143.97" cy="449.66" r="2.9" fill="none" stroke="#ff0000" stroke-width="0.95"/>
<circle cx="147.37" cy="449.66" r="2.9" fill="none" stroke="#ff0000" stroke-width="0.95"/>
<circle cx="152.72" cy="449.66" r="2.9" fill="none" stroke="#ff0000" stroke-width="0.95"/>
<circle cx="156" cy="449.66" r="2.9" fill="none" stroke="#ff0000" stroke-width="0.95"/>
<circle cx="65.8" cy="455.47" r="2.9" fill="none" stroke="#ff0000" stroke-width="0.95"/>
<circle cx="67.4" cy="455.47" r="2.9" fill="none" stroke="#ff0000" stroke-width="0.95"/>
<circle cx="69" cy="455.47" r="2.9" fill="none" stroke="#ff0000" stroke-width="0.95"/>
<circle cx="71.8" cy="455.47" r="2.9" fill="none" stroke="#ff0000" stroke-width="0.95"/>
<circle cx="78.37" cy="455.47" r="2.9" fill="none" stroke="#ff0000" stroke-width="0.95"/>
<circle cx="85.35" cy="455.47" r="2.9" fill="none" stroke="#ff0000" stroke-width="0.95"/>
<circle cx="91.05" cy="455.47" r="2.9" fill="none" stroke="#ff0000" stroke-width="0.95"/>
<circle cx="99.23" cy="455.47" r="2.9" fill="none" stroke="#ff0000" stroke-width="0.95"/>
<circle cx="104.98" cy="455.47" r="2.9" fill="none" stroke="#ff0000" stroke-width="0.95"/>
<circle cx="113.33" cy="455.47" r="2.9" fill="none" stroke="#ff0000" stroke-width="0.95"/>
<circle cx="119.8" cy="455.47" r="2.9" fill="none" stroke="#ff0000" stroke-width="0.95"/>
<circle cx="126.77" cy="455.47" r="2.9" fill="none" stroke="#ff0000" stroke-width="0.95"/>
<circle cx="134.31" cy="455.47" r="2.9" fill="none" stroke="#ff0000" stroke-width="0.95"/>
<circle cx="142.14" cy="455.47" r="2.9" fill="none" stroke="#ff0000" stroke-width="0.95"/>
<circle cx="148.34" cy="455.47" r="2.9" fill="none" stroke="#ff0000" stroke-width="0.95"/>
<circle cx="156" cy="455.47" r="2.9" fill="none" stroke="#ff0000" stroke-width="0.95"/>
<circle cx="68.8" cy="461.28" r="3.5" fill="none" stroke="#ff0000" stroke-width="0.95"/>
<circle cx="73.1" cy="461.28" r="3.5" fill="none" stroke="#ff0000" stroke-width="0.95"/>
<circle cx="84.4" cy="461.28" r="3.5" fill="none" stroke="#ff0000" stroke-width="0.95"/>
<circle cx="96.6" cy="461.28" r="3.5" fill="none" stroke="#ff0000" stroke-width="0.95"/>
<circle cx="111" cy="461.28" r="3.5" fill="none" stroke="#ff0000" stroke-width="0.95"/>
<circle cx="127.1" cy="461.28" r="3.5" fill="none" stroke="#ff0000" stroke-width="0.95"/>
<circle cx="142.5" cy="461.28" r="3.5" fill="none" stroke="#ff0000" stroke-width="0.95"/>
<line x1="65.8" y1="413" x2="65.8" y2="416.6" stroke="#243434" stroke-width="1.2"/>
<line x1="67.4" y1="413" x2="67.4" y2="416.6" stroke="#243434" stroke-width="1.2"/>
<line x1="69" y1="413" x2="69" y2="416.6" stroke="#243434" stroke-width="1.2"/>
<line x1="71.8" y1="413" x2="71.8" y2="416.6" stroke="#243434" stroke-width="1.2"/>
<line x1="74.54" y1="413" x2="74.54" y2="416.6" stroke="#243434" stroke-width="1.2"/>
<line x1="76.24" y1="413" x2="76.24" y2="416.6" stroke="#243434" stroke-width="1.2"/>
<line x1="78.54" y1="413" x2="78.54" y2="416.6" stroke="#243434" stroke-width="1.2"/>
<line x1="81.98" y1="413" x2="81.98" y2="416.6" stroke="#243434" stroke-width="1.2"/>
<line x1="84.79" y1="413" x2="84.79" y2="416.6" stroke="#243434" stroke-width="1.2"/>
<line x1="87.13" y1="413" x2="87.13" y2="416.6" stroke="#243434" stroke-width="1.2"/>
<line x1="89.62" y1="413" x2="89.62" y2="416.6" stroke="#243434" stroke-width="1.2"/>
<line x1="92.22" y1="413" x2="92.22" y2="416.6" stroke="#243434" stroke-width="1.2"/>
<line x1="94.69" y1="413" x2="94.69" y2="416.6" stroke="#243434" stroke-width="1.2"/>
<line x1="96.48" y1="413" x2="96.48" y2="416.6" stroke="#243434" stroke-width="1.2"/>
<line x1="99.56" y1="413" x2="99.56" y2="416.6" stroke="#243434" stroke-width="1.2"/>
<line x1="101.93" y1="413" x2="101.93" y2="416.6" stroke="#243434" stroke-width="1.2"/>
<line x1="104.04" y1="413" x2="104.04" y2="416.6" stroke="#243434" stroke-width="1.2"/>
<line x1="106.68" y1="413" x2="106.68" y2="416.6" stroke="#243434" stroke-width="1.2"/>
<line x1="109.74" y1="413" x2="109.74" y2="416.6" stroke="#243434" stroke-width="1.2"/>
<line x1="112.36" y1="413" x2="112.36" y2="416.6" stroke="#243434" stroke-width="1.2"/>
<line x1="115.72" y1="413" x2="115.72" y2="416.6" stroke="#243434" stroke-width="1.2"/>
<line x1="118.82" y1="413" x2="118.82" y2="416.6" stroke="#243434" stroke-width="1.2"/>
<line x1="120.68" y1="413" x2="120.68" y2="416.6" stroke="#243434" stroke-width="1.2"/>
<line x1="124.14" y1="413" x2="124.14" y2="416.6" stroke="#243434" stroke-width="1.2"/>
<line x1="126.91" y1="413" x2="126.91" y2="416.6" stroke="#243434" stroke-width="1.2"/>
<line x1="129.55" y1="413" x2="129.55" y2="416.6" stroke="#243434" stroke-width="1.2"/>
<line x1="131.31" y1="413" x2="131.31" y2="416.6" stroke="#243434" stroke-width="1.2"/>
<line x1="133.78" y1="413" x2="133.78" y2="416.6" stroke="#243434" stroke-width="1.2"/>
<line x1="136.5" y1="413" x2="136.5" y2="416.6" stroke="#243434" stroke-width="1.2"/>
<line x1="139.16" y1="413" x2="139.16" y2="416.6" stroke="#243434" stroke-width="1.2"/>
<line x1="141.89" y1="413" x2="141.89" y2="416.6" stroke="#243434" stroke-width="1.2"/>
<line x1="145.28" y1="413" x2="145.28" y2="416.6" stroke="#243434" stroke-width="1.2"/>
<line x1="148.45" y1="413" x2="148.45" y2="416.6" stroke="#243434" stroke-width="1.2"/>
<line x1="151.08" y1="413" x2="151.08" y2="416.6" stroke="#243434" stroke-width="1.2"/>
<line x1="153.23" y1="413" x2="153.23" y2="416.6" stroke="#243434" stroke-width="1.2"/>
<line x1="156" y1="413" x2="156" y2="416.6" stroke="#243434" stroke-width="1.2"/>
<line x1="65.8" y1="418.81" x2="65.8" y2="422.41" stroke="#243434" stroke-width="1.2"/>
<line x1="67.4" y1="418.81" x2="67.4" y2="422.41" stroke="#243434" stroke-width="1.2"/>
<line x1="69" y1="418.81" x2="69" y2="422.41" stroke="#243434" stroke-width="1.2"/>
<line x1="71.8" y1="418.81" x2="71.8" y2="422.41" stroke="#243434" stroke-width="1.2"/>
<line x1="74.49" y1="418.81" x2="74.49" y2="422.41" stroke="#243434" stroke-width="1.2"/>
<line x1="77.32" y1="418.81" x2="77.32" y2="422.41" stroke="#243434" stroke-width="1.2"/>
<line x1="78.81" y1="418.81" x2="78.81" y2="422.41" stroke="#243434" stroke-width="1.2"/>
<line x1="82.41" y1="418.81" x2="82.41" y2="422.41" stroke="#243434" stroke-width="1.2"/>
<line x1="85.52" y1="418.81" x2="85.52" y2="422.41" stroke="#243434" stroke-width="1.2"/>
<line x1="88.04" y1="418.81" x2="88.04" y2="422.41" stroke="#243434" stroke-width="1.2"/>
<line x1="90.74" y1="418.81" x2="90.74" y2="422.41" stroke="#243434" stroke-width="1.2"/>
<line x1="93.06" y1="418.81" x2="93.06" y2="422.41" stroke="#243434" stroke-width="1.2"/>
<line x1="95.36" y1="418.81" x2="95.36" y2="422.41" stroke="#243434" stroke-width="1.2"/>
<line x1="99.12" y1="418.81" x2="99.12" y2="422.41" stroke="#243434" stroke-width="1.2"/>
<line x1="101.19" y1="418.81" x2="101.19" y2="422.41" stroke="#243434" stroke-width="1.2"/>
<line x1="104.75" y1="418.81" x2="104.75" y2="422.41" stroke="#243434" stroke-width="1.2"/>
<line x1="107.84" y1="418.81" x2="107.84" y2="422.41" stroke="#243434" stroke-width="1.2"/>
<line x1="109.75" y1="418.81" x2="109.75" y2="422.41" stroke="#243434" stroke-width="1.2"/>
<line x1="112.59" y1="418.81" x2="112.59" y2="422.41" stroke="#243434" stroke-width="1.2"/>
<line x1="116.31" y1="418.81" x2="116.31" y2="422.41" stroke="#243434" stroke-width="1.2"/>
<line x1="118.8" y1="418.81" x2="118.8" y2="422.41" stroke="#243434" stroke-width="1.2"/>
<line x1="120.77" y1="418.81" x2="120.77" y2="422.41" stroke="#243434" stroke-width="1.2"/>
<line x1="123.56" y1="418.81" x2="123.56" y2="422.41" stroke="#243434" stroke-width="1.2"/>
<line x1="126.47" y1="418.81" x2="126.47" y2="422.41" stroke="#243434" stroke-width="1.2"/>
<line x1="130.55" y1="418.81" x2="130.55" y2="422.41" stroke="#243434" stroke-width="1.2"/>
<line x1="133.28" y1="418.81" x2="133.28" y2="422.41" stroke="#243434" stroke-width="1.2"/>
<line x1="135.1" y1="418.81" x2="135.1" y2="422.41" stroke="#243434" stroke-width="1.2"/>
<line x1="139.08" y1="418.81" x2="139.08" y2="422.41" stroke="#243434" stroke-width="1.2"/>
<line x1="142.23" y1="418.81" x2="142.23" y2="422.41" stroke="#243434" stroke-width="1.2"/>
<line x1="144.61" y1="418.81" x2="144.61" y2="422.41" stroke="#243434" stroke-width="1.2"/>
<line x1="147.02" y1="418.81" x2="147.02" y2="422.41" stroke="#243434" stroke-width="1.2"/>
<line x1="150.25" y1="418.81" x2="150.25" y2="422.41" stroke="#243434" stroke-width="1.2"/>
<line x1="152.49" y1="418.81" x2="152.49" y2="422.41" stroke="#243434" stroke-width="1.2"/>
<line x1="156" y1="418.81" x2="156" y2="422.41" stroke="#243434" stroke-width="1.2"/>
<line x1="65.8" y1="424.62" x2="65.8" y2="428.22" stroke="#243434" stroke-width="1.2"/>
<line x1="67.4" y1="424.62" x2="67.4" y2="428.22" stroke="#243434" stroke-width="1.2"/>
<line x1="69" y1="424.62" x2="69" y2="428.22" stroke="#243434" stroke-width="1.2"/>
<line x1="71.8" y1="424.62" x2="71.8" y2="428.22" stroke="#243434" stroke-width="1.2"/>
<line x1="73.65" y1="424.62" x2="73.65" y2="428.22" stroke="#243434" stroke-width="1.2"/>
<line x1="77.97" y1="424.62" x2="77.97" y2="428.22" stroke="#243434" stroke-width="1.2"/>
<line x1="80.29" y1="424.62" x2="80.29" y2="428.22" stroke="#243434" stroke-width="1.2"/>
<line x1="82.97" y1="424.62" x2="82.97" y2="428.22" stroke="#243434" stroke-width="1.2"/>
<line x1="86.53" y1="424.62" x2="86.53" y2="428.22" stroke="#243434" stroke-width="1.2"/>
<line x1="88.66" y1="424.62" x2="88.66" y2="428.22" stroke="#243434" stroke-width="1.2"/>
<line x1="92.31" y1="424.62" x2="92.31" y2="428.22" stroke="#243434" stroke-width="1.2"/>
<line x1="95.2" y1="424.62" x2="95.2" y2="428.22" stroke="#243434" stroke-width="1.2"/>
<line x1="97.2" y1="424.62" x2="97.2" y2="428.22" stroke="#243434" stroke-width="1.2"/>
<line x1="100.26" y1="424.62" x2="100.26" y2="428.22" stroke="#243434" stroke-width="1.2"/>
<line x1="103.33" y1="424.62" x2="103.33" y2="428.22" stroke="#243434" stroke-width="1.2"/>
<line x1="106.27" y1="424.62" x2="106.27" y2="428.22" stroke="#243434" stroke-width="1.2"/>
<line x1="109.85" y1="424.62" x2="109.85" y2="428.22" stroke="#243434" stroke-width="1.2"/>
<line x1="112.36" y1="424.62" x2="112.36" y2="428.22" stroke="#243434" stroke-width="1.2"/>
<line x1="115.67" y1="424.62" x2="115.67" y2="428.22" stroke="#243434" stroke-width="1.2"/>
<line x1="118.26" y1="424.62" x2="118.26" y2="428.22" stroke="#243434" stroke-width="1.2"/>
<line x1="122.57" y1="424.62" x2="122.57" y2="428.22" stroke="#243434" stroke-width="1.2"/>
<line x1="124.75" y1="424.62" x2="124.75" y2="428.22" stroke="#243434" stroke-width="1.2"/>
<line x1="127.99" y1="424.62" x2="127.99" y2="428.22" stroke="#243434" stroke-width="1.2"/>
<line x1="131.27" y1="424.62" x2="131.27" y2="428.22" stroke="#243434" stroke-width="1.2"/>
<line x1="134.87" y1="424.62" x2="134.87" y2="428.22" stroke="#243434" stroke-width="1.2"/>
<line x1="137.2" y1="424.62" x2="137.2" y2="428.22" stroke="#243434" stroke-width="1.2"/>
<line x1="141.09" y1="424.62" x2="141.09" y2="428.22" stroke="#243434" stroke-width="1.2"/>
<line x1="143.53" y1="424.62" x2="143.53" y2="428.22" stroke="#243434" stroke-width="1.2"/>
<line x1="146.69" y1="424.62" x2="146.69" y2="428.22" stroke="#243434" stroke-width="1.2"/>
<line x1="149.79" y1="424.62" x2="149.79" y2="428.22" stroke="#243434" stroke-width="1.2"/>
<line x1="152.1" y1="424.62" x2="152.1" y2="428.22" stroke="#243434" stroke-width="1.2"/>
<line x1="156" y1="424.62" x2="156" y2="428.22" stroke="#243434" stroke-width="1.2"/>
<line x1="65.8" y1="430.43" x2="65.8" y2="434.03" stroke="#243434" stroke-width="1.2"/>
<line x1="67.4" y1="430.43" x2="67.4" y2="434.03" stroke="#243434" stroke-width="1.2"/>
<line x1="69" y1="430.43" x2="69" y2="434.03" stroke="#243434" stroke-width="1.2"/>
<line x1="71.8" y1="430.43" x2="71.8" y2="434.03" stroke="#243434" stroke-width="1.2"/>
<line x1="74.44" y1="430.43" x2="74.44" y2="434.03" stroke="#243434" stroke-width="1.2"/>
<line x1="76.91" y1="430.43" x2="76.91" y2="434.03" stroke="#243434" stroke-width="1.2"/>
<line x1="79.57" y1="430.43" x2="79.57" y2="434.03" stroke="#243434" stroke-width="1.2"/>
<line x1="83.84" y1="430.43" x2="83.84" y2="434.03" stroke="#243434" stroke-width="1.2"/>
<line x1="85.85" y1="430.43" x2="85.85" y2="434.03" stroke="#243434" stroke-width="1.2"/>
<line x1="89.38" y1="430.43" x2="89.38" y2="434.03" stroke="#243434" stroke-width="1.2"/>
<line x1="92.84" y1="430.43" x2="92.84" y2="434.03" stroke="#243434" stroke-width="1.2"/>
<line x1="95.65" y1="430.43" x2="95.65" y2="434.03" stroke="#243434" stroke-width="1.2"/>
<line x1="98.38" y1="430.43" x2="98.38" y2="434.03" stroke="#243434" stroke-width="1.2"/>
<line x1="101.8" y1="430.43" x2="101.8" y2="434.03" stroke="#243434" stroke-width="1.2"/>
<line x1="104.98" y1="430.43" x2="104.98" y2="434.03" stroke="#243434" stroke-width="1.2"/>
<line x1="108.48" y1="430.43" x2="108.48" y2="434.03" stroke="#243434" stroke-width="1.2"/>
<line x1="110.54" y1="430.43" x2="110.54" y2="434.03" stroke="#243434" stroke-width="1.2"/>
<line x1="114.42" y1="430.43" x2="114.42" y2="434.03" stroke="#243434" stroke-width="1.2"/>
<line x1="117.09" y1="430.43" x2="117.09" y2="434.03" stroke="#243434" stroke-width="1.2"/>
<line x1="120.31" y1="430.43" x2="120.31" y2="434.03" stroke="#243434" stroke-width="1.2"/>
<line x1="124.28" y1="430.43" x2="124.28" y2="434.03" stroke="#243434" stroke-width="1.2"/>
<line x1="127.04" y1="430.43" x2="127.04" y2="434.03" stroke="#243434" stroke-width="1.2"/>
<line x1="130.32" y1="430.43" x2="130.32" y2="434.03" stroke="#243434" stroke-width="1.2"/>
<line x1="133.84" y1="430.43" x2="133.84" y2="434.03" stroke="#243434" stroke-width="1.2"/>
<line x1="137.29" y1="430.43" x2="137.29" y2="434.03" stroke="#243434" stroke-width="1.2"/>
<line x1="139.76" y1="430.43" x2="139.76" y2="434.03" stroke="#243434" stroke-width="1.2"/>
<line x1="143.25" y1="430.43" x2="143.25" y2="434.03" stroke="#243434" stroke-width="1.2"/>
<line x1="146.3" y1="430.43" x2="146.3" y2="434.03" stroke="#243434" stroke-width="1.2"/>
<line x1="149.54" y1="430.43" x2="149.54" y2="434.03" stroke="#243434" stroke-width="1.2"/>
<line x1="153.07" y1="430.43" x2="153.07" y2="434.03" stroke="#243434" stroke-width="1.2"/>
<line x1="156" y1="430.43" x2="156" y2="434.03" stroke="#243434" stroke-width="1.2"/>
<line x1="65.8" y1="436.24" x2="65.8" y2="439.84" stroke="#243434" stroke-width="1.2"/>
<line x1="67.4" y1="436.24" x2="67.4" y2="439.84" stroke="#243434" stroke-width="1.2"/>
<line x1="69" y1="436.24" x2="69" y2="439.84" stroke="#243434" stroke-width="1.2"/>
<line x1="71.8" y1="436.24" x2="71.8" y2="439.84" stroke="#243434" stroke-width="1.2"/>
<line x1="74.57" y1="436.24" x2="74.57" y2="439.84" stroke="#243434" stroke-width="1.2"/>
<line x1="77.7" y1="436.24" x2="77.7" y2="439.84" stroke="#243434" stroke-width="1.2"/>
<line x1="80.68" y1="436.24" x2="80.68" y2="439.84" stroke="#243434" stroke-width="1.2"/>
<line x1="84.53" y1="436.24" x2="84.53" y2="439.84" stroke="#243434" stroke-width="1.2"/>
<line x1="87.28" y1="436.24" x2="87.28" y2="439.84" stroke="#243434" stroke-width="1.2"/>
<line x1="90.73" y1="436.24" x2="90.73" y2="439.84" stroke="#243434" stroke-width="1.2"/>
<line x1="94.02" y1="436.24" x2="94.02" y2="439.84" stroke="#243434" stroke-width="1.2"/>
<line x1="96.13" y1="436.24" x2="96.13" y2="439.84" stroke="#243434" stroke-width="1.2"/>
<line x1="99.83" y1="436.24" x2="99.83" y2="439.84" stroke="#243434" stroke-width="1.2"/>
<line x1="103.68" y1="436.24" x2="103.68" y2="439.84" stroke="#243434" stroke-width="1.2"/>
<line x1="106.76" y1="436.24" x2="106.76" y2="439.84" stroke="#243434" stroke-width="1.2"/>
<line x1="108.9" y1="436.24" x2="108.9" y2="439.84" stroke="#243434" stroke-width="1.2"/>
<line x1="112.14" y1="436.24" x2="112.14" y2="439.84" stroke="#243434" stroke-width="1.2"/>
<line x1="115.94" y1="436.24" x2="115.94" y2="439.84" stroke="#243434" stroke-width="1.2"/>
<line x1="118.64" y1="436.24" x2="118.64" y2="439.84" stroke="#243434" stroke-width="1.2"/>
<line x1="122.2" y1="436.24" x2="122.2" y2="439.84" stroke="#243434" stroke-width="1.2"/>
<line x1="125.24" y1="436.24" x2="125.24" y2="439.84" stroke="#243434" stroke-width="1.2"/>
<line x1="129.51" y1="436.24" x2="129.51" y2="439.84" stroke="#243434" stroke-width="1.2"/>
<line x1="133.02" y1="436.24" x2="133.02" y2="439.84" stroke="#243434" stroke-width="1.2"/>
<line x1="136.53" y1="436.24" x2="136.53" y2="439.84" stroke="#243434" stroke-width="1.2"/>
<line x1="138.68" y1="436.24" x2="138.68" y2="439.84" stroke="#243434" stroke-width="1.2"/>
<line x1="142.92" y1="436.24" x2="142.92" y2="439.84" stroke="#243434" stroke-width="1.2"/>
<line x1="146.18" y1="436.24" x2="146.18" y2="439.84" stroke="#243434" stroke-width="1.2"/>
<line x1="148.7" y1="436.24" x2="148.7" y2="439.84" stroke="#243434" stroke-width="1.2"/>
<line x1="153.25" y1="436.24" x2="153.25" y2="439.84" stroke="#243434" stroke-width="1.2"/>
<line x1="156" y1="436.24" x2="156" y2="439.84" stroke="#243434" stroke-width="1.2"/>
<line x1="65.8" y1="442.05" x2="65.8" y2="445.65" stroke="#243434" stroke-width="1.2"/>
<line x1="67.4" y1="442.05" x2="67.4" y2="445.65" stroke="#243434" stroke-width="1.2"/>
<line x1="69" y1="442.05" x2="69" y2="445.65" stroke="#243434" stroke-width="1.2"/>
<line x1="71.8" y1="442.05" x2="71.8" y2="445.65" stroke="#243434" stroke-width="1.2"/>
<line x1="75.51" y1="442.05" x2="75.51" y2="445.65" stroke="#243434" stroke-width="1.2"/>
<line x1="77.44" y1="442.05" x2="77.44" y2="445.65" stroke="#243434" stroke-width="1.2"/>
<line x1="81.81" y1="442.05" x2="81.81" y2="445.65" stroke="#243434" stroke-width="1.2"/>
<line x1="84.16" y1="442.05" x2="84.16" y2="445.65" stroke="#243434" stroke-width="1.2"/>
<line x1="87.57" y1="442.05" x2="87.57" y2="445.65" stroke="#243434" stroke-width="1.2"/>
<line x1="91.67" y1="442.05" x2="91.67" y2="445.65" stroke="#243434" stroke-width="1.2"/>
<line x1="94.74" y1="442.05" x2="94.74" y2="445.65" stroke="#243434" stroke-width="1.2"/>
<line x1="97" y1="442.05" x2="97" y2="445.65" stroke="#243434" stroke-width="1.2"/>
<line x1="100.79" y1="442.05" x2="100.79" y2="445.65" stroke="#243434" stroke-width="1.2"/>
<line x1="104.29" y1="442.05" x2="104.29" y2="445.65" stroke="#243434" stroke-width="1.2"/>
<line x1="107.39" y1="442.05" x2="107.39" y2="445.65" stroke="#243434" stroke-width="1.2"/>
<line x1="110.56" y1="442.05" x2="110.56" y2="445.65" stroke="#243434" stroke-width="1.2"/>
<line x1="114.16" y1="442.05" x2="114.16" y2="445.65" stroke="#243434" stroke-width="1.2"/>
<line x1="118.23" y1="442.05" x2="118.23" y2="445.65" stroke="#243434" stroke-width="1.2"/>
<line x1="120.53" y1="442.05" x2="120.53" y2="445.65" stroke="#243434" stroke-width="1.2"/>
<line x1="124.82" y1="442.05" x2="124.82" y2="445.65" stroke="#243434" stroke-width="1.2"/>
<line x1="128.08" y1="442.05" x2="128.08" y2="445.65" stroke="#243434" stroke-width="1.2"/>
<line x1="130.86" y1="442.05" x2="130.86" y2="445.65" stroke="#243434" stroke-width="1.2"/>
<line x1="134.82" y1="442.05" x2="134.82" y2="445.65" stroke="#243434" stroke-width="1.2"/>
<line x1="138.76" y1="442.05" x2="138.76" y2="445.65" stroke="#243434" stroke-width="1.2"/>
<line x1="142.06" y1="442.05" x2="142.06" y2="445.65" stroke="#243434" stroke-width="1.2"/>
<line x1="144.82" y1="442.05" x2="144.82" y2="445.65" stroke="#243434" stroke-width="1.2"/>
<line x1="149.78" y1="442.05" x2="149.78" y2="445.65" stroke="#243434" stroke-width="1.2"/>
<line x1="152.96" y1="442.05" x2="152.96" y2="445.65" stroke="#243434" stroke-width="1.2"/>
<line x1="156" y1="442.05" x2="156" y2="445.65" stroke="#243434" stroke-width="1.2"/>
<line x1="65.8" y1="447.86" x2="65.8" y2="451.46" stroke="#243434" stroke-width="1.2"/>
<line x1="67.4" y1="447.86" x2="67.4" y2="451.46" stroke="#243434" stroke-width="1.2"/>
<line x1="69" y1="447.86" x2="69" y2="451.46" stroke="#243434" stroke-width="1.2"/>
<line x1="71.8" y1="447.86" x2="71.8" y2="451.46" stroke="#243434" stroke-width="1.2"/>
<line x1="75.94" y1="447.86" x2="75.94" y2="451.46" stroke="#243434" stroke-width="1.2"/>
<line x1="78.12" y1="447.86" x2="78.12" y2="451.46" stroke="#243434" stroke-width="1.2"/>
<line x1="82.03" y1="447.86" x2="82.03" y2="451.46" stroke="#243434" stroke-width="1.2"/>
<line x1="85.36" y1="447.86" x2="85.36" y2="451.46" stroke="#243434" stroke-width="1.2"/>
<line x1="90.28" y1="447.86" x2="90.28" y2="451.46" stroke="#243434" stroke-width="1.2"/>
<line x1="93.23" y1="447.86" x2="93.23" y2="451.46" stroke="#243434" stroke-width="1.2"/>
<line x1="96.8" y1="447.86" x2="96.8" y2="451.46" stroke="#243434" stroke-width="1.2"/>
<line x1="101.08" y1="447.86" x2="101.08" y2="451.46" stroke="#243434" stroke-width="1.2"/>
<line x1="105.69" y1="447.86" x2="105.69" y2="451.46" stroke="#243434" stroke-width="1.2"/>
<line x1="109.39" y1="447.86" x2="109.39" y2="451.46" stroke="#243434" stroke-width="1.2"/>
<line x1="112.36" y1="447.86" x2="112.36" y2="451.46" stroke="#243434" stroke-width="1.2"/>
<line x1="116.07" y1="447.86" x2="116.07" y2="451.46" stroke="#243434" stroke-width="1.2"/>
<line x1="121.19" y1="447.86" x2="121.19" y2="451.46" stroke="#243434" stroke-width="1.2"/>
<line x1="124.53" y1="447.86" x2="124.53" y2="451.46" stroke="#243434" stroke-width="1.2"/>
<line x1="128.66" y1="447.86" x2="128.66" y2="451.46" stroke="#243434" stroke-width="1.2"/>
<line x1="131.6" y1="447.86" x2="131.6" y2="451.46" stroke="#243434" stroke-width="1.2"/>
<line x1="135.49" y1="447.86" x2="135.49" y2="451.46" stroke="#243434" stroke-width="1.2"/>
<line x1="140.44" y1="447.86" x2="140.44" y2="451.46" stroke="#243434" stroke-width="1.2"/>
<line x1="143.97" y1="447.86" x2="143.97" y2="451.46" stroke="#243434" stroke-width="1.2"/>
<line x1="147.37" y1="447.86" x2="147.37" y2="451.46" stroke="#243434" stroke-width="1.2"/>
<line x1="152.72" y1="447.86" x2="152.72" y2="451.46" stroke="#243434" stroke-width="1.2"/>
<line x1="156" y1="447.86" x2="156" y2="451.46" stroke="#243434" stroke-width="1.2"/>
<line x1="47.1" y1="412.5" x2="47.1" y2="486.7" stroke="#707070" stroke-width="1.4"/>
<line x1="46.6" y1="486.2" x2="229.8" y2="486.2" stroke="#2a2a2a" stroke-width="1.3"/>
<line x1="47.1" y1="427.5" x2="48.9" y2="427.5" stroke="#111" stroke-width="1"/>
<line x1="47.1" y1="450.5" x2="48.9" y2="450.5" stroke="#111" stroke-width="1"/>
<line x1="47.1" y1="473" x2="48.9" y2="473" stroke="#111" stroke-width="1"/>
<line x1="91.1" y1="486.2" x2="91.1" y2="484.4" stroke="#111" stroke-width="1"/>
<line x1="137.8" y1="486.2" x2="137.8" y2="484.4" stroke="#111" stroke-width="1"/>
<line x1="183.1" y1="486.2" x2="183.1" y2="484.4" stroke="#111" stroke-width="1"/>
<text x="43" y="309.22" font-size="10.8" text-anchor="end">400</text>
<text x="43" y="331.97" font-size="10.8" text-anchor="end">200</text>
<text x="43" y="355.47" font-size="10.8" text-anchor="end">0</text>
<text x="42" y="431.22" font-size="10.8" text-anchor="end">400</text>
<text x="42" y="454.22" font-size="10.8" text-anchor="end">200</text>
<text x="42" y="476.72" font-size="10.8" text-anchor="end">0</text>
<text x="48.2" y="381" font-size="10.8" text-anchor="middle">0</text>
<text x="93.1" y="381" font-size="10.8" text-anchor="middle">0.5</text>
<text x="139.3" y="381" font-size="10.8" text-anchor="middle">1</text>
<text x="184.5" y="381" font-size="10.8" text-anchor="middle">1.5</text>
<text x="46.6" y="501.8" font-size="10.8" text-anchor="middle">0</text>
<text x="91.1" y="501.8" font-size="10.8" text-anchor="middle">0.5</text>
<text x="137.8" y="501.8" font-size="10.8" text-anchor="middle">1</text>
<text x="183.1" y="501.8" font-size="10.8" text-anchor="middle">1.5</text>
<text x="111" y="394.6" font-size="10.8" textLength="51" lengthAdjust="spacingAndGlyphs">Time (sec)</text>
<text x="109.2" y="511" font-size="10.8" textLength="50.5" lengthAdjust="spacingAndGlyphs">Time (sec)</text>
<text x="48.75" y="286.25" font-size="14.5" textLength="22.5" lengthAdjust="spacingAndGlyphs">WT</text>
<text x="48.8" y="408.2" font-size="14.5" textLength="44.6" lengthAdjust="spacingAndGlyphs">5xFAD</text>
<text x="15.5" y="331" font-size="10.8" text-anchor="middle" textLength="51.5" lengthAdjust="spacingAndGlyphs" transform="rotate(-90 15.5 331)">I step (pA)</text>
<text x="15.5" y="451.3" font-size="10.8" text-anchor="middle" textLength="52.3" lengthAdjust="spacingAndGlyphs" transform="rotate(-90 15.5 451.3)">I step (pA)</text>
<rect x="64.9" y="522.9" width="91.2" height="44.3" fill="#fff" stroke="#3a3a3a" stroke-width="1"/>
<line x1="64.9" y1="526.59" x2="156.1" y2="526.59" stroke="#3a3a3a" stroke-width="0.9"/>
<line x1="64.9" y1="530.28" x2="156.1" y2="530.28" stroke="#3a3a3a" stroke-width="0.9"/>
<line x1="64.9" y1="533.98" x2="156.1" y2="533.98" stroke="#3a3a3a" stroke-width="0.9"/>
<line x1="64.9" y1="537.67" x2="156.1" y2="537.67" stroke="#3a3a3a" stroke-width="0.9"/>
<line x1="64.9" y1="541.36" x2="156.1" y2="541.36" stroke="#3a3a3a" stroke-width="0.9"/>
<line x1="64.9" y1="545.05" x2="156.1" y2="545.05" stroke="#3a3a3a" stroke-width="0.9"/>
<line x1="64.9" y1="548.74" x2="156.1" y2="548.74" stroke="#3a3a3a" stroke-width="0.9"/>
<line x1="64.9" y1="552.43" x2="156.1" y2="552.43" stroke="#3a3a3a" stroke-width="0.9"/>
<line x1="64.9" y1="556.12" x2="156.1" y2="556.12" stroke="#3a3a3a" stroke-width="0.9"/>
<line x1="64.9" y1="559.82" x2="156.1" y2="559.82" stroke="#3a3a3a" stroke-width="0.9"/>
<line x1="64.9" y1="563.51" x2="156.1" y2="563.51" stroke="#3a3a3a" stroke-width="0.9"/>
<line x1="46.5" y1="559.9" x2="64.9" y2="559.9" stroke="#666" stroke-width="1.2"/>
<line x1="156.1" y1="559.9" x2="229.5" y2="559.9" stroke="#666" stroke-width="1.2"/>
<text x="161.7" y="552.4" font-size="15.5" textLength="103.7" lengthAdjust="spacingAndGlyphs">current injection</text>
<line x1="291.3" y1="335.8" x2="291.3" y2="514" stroke="#222" stroke-width="1"/>
<line x1="285" y1="336.1" x2="291.3" y2="336.1" stroke="#222" stroke-width="1"/>
<text x="282.5" y="340.57" font-size="13" text-anchor="end" textLength="15" lengthAdjust="spacingAndGlyphs">30</text>
<line x1="285" y1="380.6" x2="291.3" y2="380.6" stroke="#222" stroke-width="1"/>
<text x="282.5" y="385.07" font-size="13" text-anchor="end" textLength="15" lengthAdjust="spacingAndGlyphs">20</text>
<line x1="285" y1="425.1" x2="291.3" y2="425.1" stroke="#222" stroke-width="1"/>
<text x="282.5" y="429.57" font-size="13" text-anchor="end" textLength="15" lengthAdjust="spacingAndGlyphs">10</text>
<line x1="285" y1="469.6" x2="291.3" y2="469.6" stroke="#222" stroke-width="1"/>
<text x="282.5" y="474.07" font-size="13" text-anchor="end" textLength="7.5" lengthAdjust="spacingAndGlyphs">0</text>
<line x1="284.6" y1="514" x2="291.3" y2="514" stroke="#222" stroke-width="1"/>
<line x1="291.2" y1="478.1" x2="471.2" y2="478.1" stroke="#222" stroke-width="1"/>
<line x1="362.7" y1="478.1" x2="362.7" y2="484.8" stroke="#222" stroke-width="1"/>
<text x="362.7" y="497.4" font-size="13" text-anchor="middle" textLength="22.5" lengthAdjust="spacingAndGlyphs">200</text>
<line x1="434.2" y1="478.1" x2="434.2" y2="484.8" stroke="#222" stroke-width="1"/>
<text x="434.2" y="497.4" font-size="13" text-anchor="middle" textLength="22.5" lengthAdjust="spacingAndGlyphs">400</text>
<text x="255.5" y="391.6" font-size="14.5" text-anchor="middle" textLength="87.5" lengthAdjust="spacingAndGlyphs" transform="rotate(-90 255.5 391.6)">AP frequency</text>
<text x="337.5" y="526.6" font-size="14.8" textLength="84.7" lengthAdjust="spacingAndGlyphs">current inject</text>
<text x="323.1" y="286.5" font-size="14.5" textLength="103.4" lengthAdjust="spacingAndGlyphs">genotype effect:</text>
<text x="323.1" y="304.4" font-size="14.5" textLength="99" lengthAdjust="spacingAndGlyphs">F(1,110) = 62.9</text>
<text x="323.1" y="322.8" font-size="14.5" textLength="68.4" lengthAdjust="spacingAndGlyphs">p &lt; 0.0001</text>
<line x1="297.5" y1="348.75" x2="316.25" y2="348.75" stroke="#222" stroke-width="1"/>
<circle cx="307" cy="348.75" r="3.7" fill="#000" stroke="none" stroke-width="1"/>
<text x="327.5" y="353.75" font-size="14.5" textLength="22.5" lengthAdjust="spacingAndGlyphs">WT</text>
<line x1="297.5" y1="373.25" x2="316.25" y2="373.25" stroke="#ff7070" stroke-width="1"/>
<circle cx="307" cy="373.25" r="3" fill="#fff" stroke="#ff5050" stroke-width="1"/>
<text x="327.5" y="378.3" font-size="14.5" textLength="44.5" lengthAdjust="spacingAndGlyphs">5xFAD</text>
<polyline points="291.2,469.6 309.07,468.27 326.95,459.37 344.82,447.35 362.7,436.67 380.57,425.1 398.45,413.98 416.32,405.97 434.2,397.96 452.07,388.17 469.95,379.26" fill="none" stroke="#ff4040" stroke-width="1" stroke-linejoin="round"/>
<polyline points="291.2,469.6 309.07,467.82 326.95,461.59 344.82,445.12 362.7,430.89 380.57,416.2 398.45,401.07 416.32,388.17 434.2,370.37 452.07,357.46 469.95,348.56" fill="none" stroke="#222" stroke-width="1" stroke-linejoin="round"/>
<circle cx="291.2" cy="469.6" r="2.5" fill="#fff" stroke="#ff4040" stroke-width="1.1"/>
<circle cx="309.07" cy="468.27" r="2.5" fill="#fff" stroke="#ff4040" stroke-width="1.1"/>
<line x1="326.95" y1="455.36" x2="326.95" y2="463.37" stroke="#ff4040" stroke-width="1"/>
<line x1="323.75" y1="455.36" x2="330.15" y2="455.36" stroke="#ff4040" stroke-width="1"/>
<line x1="323.75" y1="463.37" x2="330.15" y2="463.37" stroke="#ff4040" stroke-width="1"/>
<circle cx="326.95" cy="459.37" r="2.5" fill="#fff" stroke="#ff4040" stroke-width="1.1"/>
<line x1="344.82" y1="444.68" x2="344.82" y2="450.02" stroke="#ff4040" stroke-width="1"/>
<line x1="341.62" y1="444.68" x2="348.02" y2="444.68" stroke="#ff4040" stroke-width="1"/>
<line x1="341.62" y1="450.02" x2="348.02" y2="450.02" stroke="#ff4040" stroke-width="1"/>
<circle cx="344.82" cy="447.35" r="2.5" fill="#fff" stroke="#ff4040" stroke-width="1.1"/>
<line x1="362.7" y1="433.56" x2="362.7" y2="439.79" stroke="#ff4040" stroke-width="1"/>
<line x1="359.5" y1="433.56" x2="365.9" y2="433.56" stroke="#ff4040" stroke-width="1"/>
<line x1="359.5" y1="439.79" x2="365.9" y2="439.79" stroke="#ff4040" stroke-width="1"/>
<circle cx="362.7" cy="436.67" r="2.5" fill="#fff" stroke="#ff4040" stroke-width="1.1"/>
<line x1="380.57" y1="422.43" x2="380.57" y2="427.77" stroke="#ff4040" stroke-width="1"/>
<line x1="377.38" y1="422.43" x2="383.77" y2="422.43" stroke="#ff4040" stroke-width="1"/>
<line x1="377.38" y1="427.77" x2="383.77" y2="427.77" stroke="#ff4040" stroke-width="1"/>
<circle cx="380.57" cy="425.1" r="2.5" fill="#fff" stroke="#ff4040" stroke-width="1.1"/>
<line x1="398.45" y1="409.97" x2="398.45" y2="417.98" stroke="#ff4040" stroke-width="1"/>
<line x1="395.25" y1="409.97" x2="401.65" y2="409.97" stroke="#ff4040" stroke-width="1"/>
<line x1="395.25" y1="417.98" x2="401.65" y2="417.98" stroke="#ff4040" stroke-width="1"/>
<circle cx="398.45" cy="413.98" r="2.5" fill="#fff" stroke="#ff4040" stroke-width="1.1"/>
<line x1="416.32" y1="401.96" x2="416.32" y2="409.97" stroke="#ff4040" stroke-width="1"/>
<line x1="413.12" y1="401.96" x2="419.52" y2="401.96" stroke="#ff4040" stroke-width="1"/>
<line x1="413.12" y1="409.97" x2="419.52" y2="409.97" stroke="#ff4040" stroke-width="1"/>
<circle cx="416.32" cy="405.97" r="2.5" fill="#fff" stroke="#ff4040" stroke-width="1.1"/>
<line x1="434.2" y1="393.73" x2="434.2" y2="402.18" stroke="#ff4040" stroke-width="1"/>
<line x1="431" y1="393.73" x2="437.4" y2="393.73" stroke="#ff4040" stroke-width="1"/>
<line x1="431" y1="402.18" x2="437.4" y2="402.18" stroke="#ff4040" stroke-width="1"/>
<circle cx="434.2" cy="397.96" r="2.5" fill="#fff" stroke="#ff4040" stroke-width="1.1"/>
<line x1="452.07" y1="384.38" x2="452.07" y2="391.95" stroke="#ff4040" stroke-width="1"/>
<line x1="448.88" y1="384.38" x2="455.27" y2="384.38" stroke="#ff4040" stroke-width="1"/>
<line x1="448.88" y1="391.95" x2="455.27" y2="391.95" stroke="#ff4040" stroke-width="1"/>
<circle cx="452.07" cy="388.17" r="2.5" fill="#fff" stroke="#ff4040" stroke-width="1.1"/>
<line x1="469.95" y1="376.37" x2="469.95" y2="382.16" stroke="#ff4040" stroke-width="1"/>
<line x1="466.75" y1="376.37" x2="473.15" y2="376.37" stroke="#ff4040" stroke-width="1"/>
<line x1="466.75" y1="382.16" x2="473.15" y2="382.16" stroke="#ff4040" stroke-width="1"/>
<circle cx="469.95" cy="379.26" r="2.5" fill="#fff" stroke="#ff4040" stroke-width="1.1"/>
<circle cx="291.2" cy="469.6" r="3.8" fill="#000" stroke="none" stroke-width="1"/>
<circle cx="309.07" cy="467.82" r="3.8" fill="#000" stroke="none" stroke-width="1"/>
<line x1="326.95" y1="456.7" x2="326.95" y2="466.49" stroke="#222" stroke-width="1"/>
<line x1="323.25" y1="456.7" x2="330.65" y2="456.7" stroke="#222" stroke-width="1"/>
<line x1="323.25" y1="466.49" x2="330.65" y2="466.49" stroke="#222" stroke-width="1"/>
<circle cx="326.95" cy="461.59" r="3.8" fill="#000" stroke="none" stroke-width="1"/>
<line x1="344.82" y1="441.56" x2="344.82" y2="448.69" stroke="#222" stroke-width="1"/>
<line x1="341.12" y1="441.56" x2="348.52" y2="441.56" stroke="#222" stroke-width="1"/>
<line x1="341.12" y1="448.69" x2="348.52" y2="448.69" stroke="#222" stroke-width="1"/>
<circle cx="344.82" cy="445.12" r="3.8" fill="#000" stroke="none" stroke-width="1"/>
<line x1="362.7" y1="427.33" x2="362.7" y2="434.45" stroke="#222" stroke-width="1"/>
<line x1="359" y1="427.33" x2="366.4" y2="427.33" stroke="#222" stroke-width="1"/>
<line x1="359" y1="434.45" x2="366.4" y2="434.45" stroke="#222" stroke-width="1"/>
<circle cx="362.7" cy="430.89" r="3.8" fill="#000" stroke="none" stroke-width="1"/>
<line x1="380.57" y1="411.53" x2="380.57" y2="420.87" stroke="#222" stroke-width="1"/>
<line x1="376.88" y1="411.53" x2="384.27" y2="411.53" stroke="#222" stroke-width="1"/>
<line x1="376.88" y1="420.87" x2="384.27" y2="420.87" stroke="#222" stroke-width="1"/>
<circle cx="380.57" cy="416.2" r="3.8" fill="#000" stroke="none" stroke-width="1"/>
<line x1="398.45" y1="397.51" x2="398.45" y2="404.63" stroke="#222" stroke-width="1"/>
<line x1="394.75" y1="397.51" x2="402.15" y2="397.51" stroke="#222" stroke-width="1"/>
<line x1="394.75" y1="404.63" x2="402.15" y2="404.63" stroke="#222" stroke-width="1"/>
<circle cx="398.45" cy="401.07" r="3.8" fill="#000" stroke="none" stroke-width="1"/>
<line x1="416.32" y1="384.61" x2="416.32" y2="391.73" stroke="#222" stroke-width="1"/>
<line x1="412.62" y1="384.61" x2="420.02" y2="384.61" stroke="#222" stroke-width="1"/>
<line x1="412.62" y1="391.73" x2="420.02" y2="391.73" stroke="#222" stroke-width="1"/>
<circle cx="416.32" cy="388.17" r="3.8" fill="#000" stroke="none" stroke-width="1"/>
<line x1="434.2" y1="365.92" x2="434.2" y2="374.81" stroke="#222" stroke-width="1"/>
<line x1="430.5" y1="365.92" x2="437.9" y2="365.92" stroke="#222" stroke-width="1"/>
<line x1="430.5" y1="374.81" x2="437.9" y2="374.81" stroke="#222" stroke-width="1"/>
<circle cx="434.2" cy="370.37" r="3.8" fill="#000" stroke="none" stroke-width="1"/>
<line x1="452.07" y1="353.68" x2="452.07" y2="361.24" stroke="#222" stroke-width="1"/>
<line x1="448.38" y1="353.68" x2="455.77" y2="353.68" stroke="#222" stroke-width="1"/>
<line x1="448.38" y1="361.24" x2="455.77" y2="361.24" stroke="#222" stroke-width="1"/>
<circle cx="452.07" cy="357.46" r="3.8" fill="#000" stroke="none" stroke-width="1"/>
<line x1="469.95" y1="343.35" x2="469.95" y2="353.77" stroke="#222" stroke-width="1"/>
<line x1="466.25" y1="343.35" x2="473.65" y2="343.35" stroke="#222" stroke-width="1"/>
<line x1="466.25" y1="353.77" x2="473.65" y2="353.77" stroke="#222" stroke-width="1"/>
<circle cx="469.95" cy="348.56" r="3.8" fill="#000" stroke="none" stroke-width="1"/>
<text x="420.68" y="374.62" font-size="14" transform="rotate(-90 420.68 374.62)">**</text>
<text x="438.88" y="359.32" font-size="14" transform="rotate(-90 438.88 359.32)">****</text>
<text x="457.58" y="351.72" font-size="14" transform="rotate(-90 457.58 351.72)">****</text>
<text x="474.98" y="335.92" font-size="14" transform="rotate(-90 474.98 335.92)">****</text>
<polyline points="560.6,333.2 564.1,333.2 566.1,332 567.6,330.1 567.9,328.6 568.2,294.6 568.5,328.6 570,328.6 570.3,294.6 570.6,328.6 573.09,330.4 575.41,330.22 578.8,328.9 579.3,328.6 579.6,294.6 579.9,328.6 582.27,330.4 584.5,330.22 587.7,328.9 588.2,328.6 588.5,294.6 588.8,328.6 590.57,330.4 592.29,330.22 594.6,328.9 595.1,328.6 595.4,294.6 595.7,328.6 598.7,330.4 601.45,330.22 605.6,328.9 606.1,328.6 606.4,294.6 606.7,328.6 609.52,330.4 612.12,330.22 616,328.9 616.5,328.6 616.8,294.6 617.1,328.6 620.01,330.4 622.68,330.22 626.7,328.9 627.2,328.6 627.5,294.6 627.8,328.6 630.56,330.4 633.11,330.22 636.9,328.9 637.4,328.6 637.7,294.6 638,328.6 641.57,330.4 644.8,330.22 649.8,328.9 650.3,328.6 650.6,294.6 650.9,328.6 652.1,330.4 653.35,330.22 654.8,328.9 655.6,328.6 657.6,329.9 660.6,333 663.6,334 681,333.6" fill="none" stroke="#ff2a2a" stroke-width="1" stroke-linejoin="round"/>
<polyline points="560.1,384.2 564.9,384.2 566.9,383 568.4,379.8 568.7,378.3 569,345.1 569.3,378.3 571.5,378.3 571.8,345.1 572.1,378.3 575.85,380.1 579.22,379.92 584.5,378.6 585,378.3 585.3,345.1 585.6,378.3 588.9,380.1 591.9,379.92 596.5,378.6 597,378.3 597.3,345.1 597.6,378.3 601.5,380.1 605,379.92 610.5,378.6 611,378.3 611.3,345.1 611.6,378.3 616.04,380.1 619.99,379.92 626.3,378.6 626.8,378.3 627.1,345.1 627.4,378.3 631.66,380.1 635.46,379.92 641.5,378.6 642,378.3 642.3,345.1 642.6,378.3 646.29,380.1 649.62,379.92 654.8,378.6 655.6,378.3 657.6,379.6 660.6,384.3 663.6,385.3 681,384.9" fill="none" stroke="#1a1a1a" stroke-width="1" stroke-linejoin="round"/>
<line x1="538.25" y1="385.75" x2="538.25" y2="530.3" stroke="#404040" stroke-width="1"/>
<line x1="532.25" y1="385.75" x2="538.25" y2="385.75" stroke="#404040" stroke-width="1"/>
<text x="530.8" y="389.33" font-size="10.4" text-anchor="end">1.0</text>
<line x1="532.25" y1="414.66" x2="538.25" y2="414.66" stroke="#404040" stroke-width="1"/>
<text x="530.8" y="418.24" font-size="10.4" text-anchor="end">0.8</text>
<line x1="532.25" y1="443.57" x2="538.25" y2="443.57" stroke="#404040" stroke-width="1"/>
<text x="530.8" y="447.15" font-size="10.4" text-anchor="end">0.6</text>
<line x1="532.25" y1="472.48" x2="538.25" y2="472.48" stroke="#404040" stroke-width="1"/>
<text x="530.8" y="476.06" font-size="10.4" text-anchor="end">0.4</text>
<line x1="532.25" y1="501.39" x2="538.25" y2="501.39" stroke="#404040" stroke-width="1"/>
<text x="530.8" y="504.97" font-size="10.4" text-anchor="end">0.2</text>
<line x1="532.25" y1="530.3" x2="538.25" y2="530.3" stroke="#404040" stroke-width="1"/>
<text x="530.8" y="533.88" font-size="10.4" text-anchor="end">0.0</text>
<line x1="532.7" y1="530.3" x2="683.5" y2="530.3" stroke="#404040" stroke-width="1"/>
<rect x="560.6" y="417" width="39.6" height="113.3" fill="#808080" stroke="#1e1e1e" stroke-width="1.6"/>
<rect x="622.5" y="415.4" width="39.3" height="114.9" fill="#d0d0d2" stroke="#3a3a3a" stroke-width="1"/>
<line x1="580.5" y1="530.3" x2="580.5" y2="536" stroke="#404040" stroke-width="1"/>
<line x1="642.3" y1="530.3" x2="642.3" y2="536" stroke="#404040" stroke-width="1"/>
<text x="569.7" y="555.4" font-size="14.3" textLength="21.3" lengthAdjust="spacingAndGlyphs">WT</text>
<text x="627.2" y="555.4" font-size="14.3" textLength="44.1" lengthAdjust="spacingAndGlyphs">5xFAD</text>
<text x="508.5" y="462.35" font-size="11.5" text-anchor="middle" textLength="109.9" lengthAdjust="spacingAndGlyphs" transform="rotate(-90 508.5 462.35)">spike freq adaptation</text>
<line x1="580.25" y1="412" x2="580.25" y2="420.75" stroke="#222" stroke-width="1"/>
<line x1="570" y1="412" x2="590.5" y2="412" stroke="#222" stroke-width="1"/>
<line x1="570" y1="420.75" x2="590.5" y2="420.75" stroke="#222" stroke-width="1"/>
<circle cx="580" cy="399.5" r="3.4" fill="#ff0000" stroke="none" stroke-width="1"/>
<circle cx="585.75" cy="406.25" r="3.4" fill="#ff0000" stroke="none" stroke-width="1"/>
<circle cx="574.25" cy="411.75" r="3.4" fill="#ff0000" stroke="none" stroke-width="1"/>
<circle cx="585.75" cy="418.25" r="3.4" fill="#ff0000" stroke="none" stroke-width="1"/>
<circle cx="574.25" cy="421.25" r="3.4" fill="#ff0000" stroke="none" stroke-width="1"/>
<circle cx="585.75" cy="425.5" r="3.4" fill="#ff0000" stroke="none" stroke-width="1"/>
<circle cx="574.25" cy="429.5" r="3.4" fill="#ff0000" stroke="none" stroke-width="1"/>
<line x1="642.25" y1="411.25" x2="642.25" y2="416.5" stroke="#222" stroke-width="1"/>
<line x1="631.75" y1="411.25" x2="653" y2="411.25" stroke="#222" stroke-width="1"/>
<circle cx="630.5" cy="405.5" r="2.9" fill="#fff" stroke="#ff3030" stroke-width="1"/>
<circle cx="642.25" cy="403.75" r="2.9" fill="#fff" stroke="#ff3030" stroke-width="1"/>
<circle cx="653.75" cy="408.25" r="2.9" fill="#fff" stroke="#ff3030" stroke-width="1"/>
<circle cx="642.25" cy="410.75" r="2.9" fill="#fff" stroke="#ff3030" stroke-width="1"/>
<circle cx="630.5" cy="415.75" r="2.9" fill="#fff" stroke="#ff3030" stroke-width="1"/>
<circle cx="653.75" cy="417.5" r="2.9" fill="#fff" stroke="#ff3030" stroke-width="1"/>
<circle cx="648" cy="425.5" r="2.9" fill="#fff" stroke="#ff3030" stroke-width="1"/>
<circle cx="636.25" cy="429.5" r="2.9" fill="#fff" stroke="#ff3030" stroke-width="1"/>
</svg>
</body></html>
